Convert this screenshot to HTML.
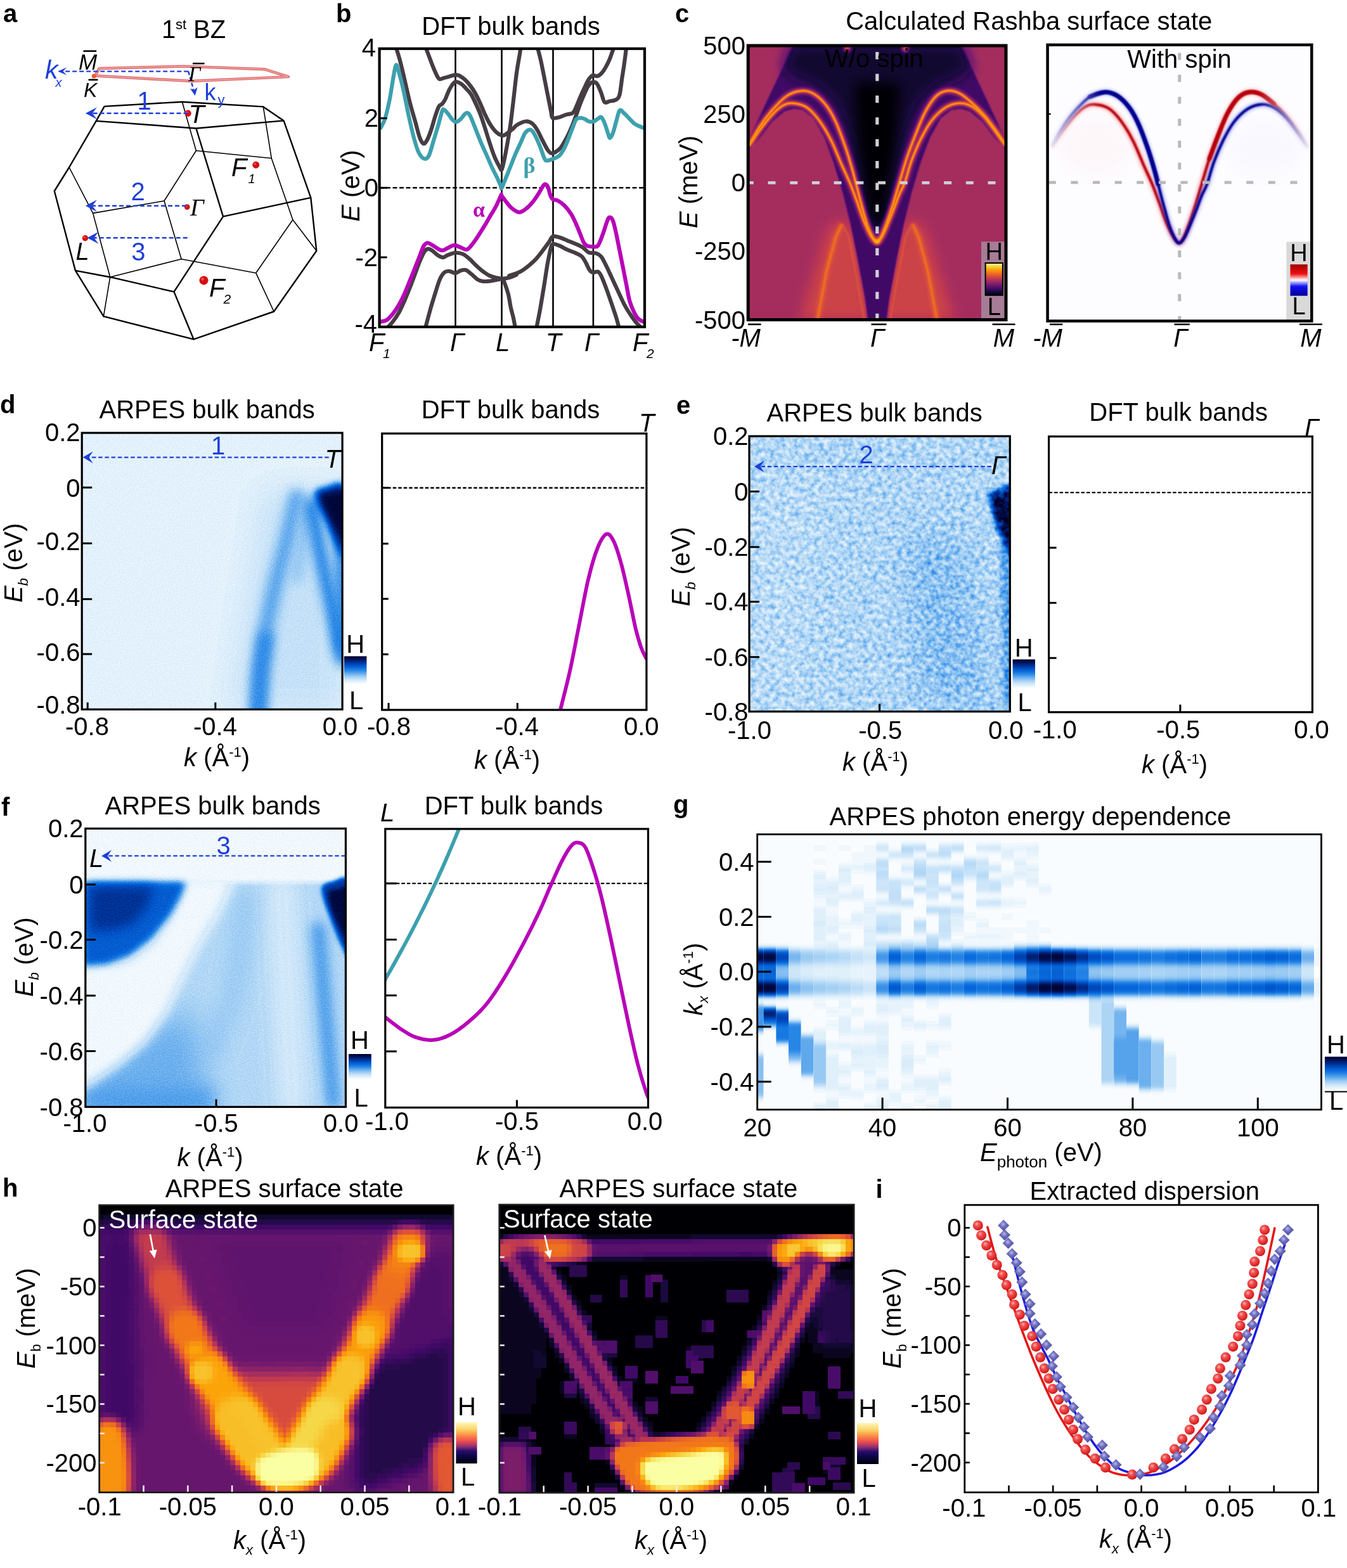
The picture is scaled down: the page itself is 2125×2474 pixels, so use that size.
<!DOCTYPE html>
<html><head><meta charset="utf-8"><title>Figure</title><style>html,body{margin:0;padding:0;background:#fff;}svg{display:block;}</style></head><body><svg xmlns="http://www.w3.org/2000/svg" width="2125" height="2474" viewBox="0 0 2125 2474" font-family="'Liberation Sans', Arial, Helvetica, sans-serif" font-size="40" fill="#000"><defs><filter id="cmInf" x="0" y="0" width="1" height="1" color-interpolation-filters="sRGB"><feComponentTransfer in="SourceGraphic"><feFuncR type="table" tableValues="0.000 0.086 0.259 0.416 0.576 0.737 0.867 0.953 0.988 0.965 0.988"/><feFuncG type="table" tableValues="0.000 0.043 0.039 0.090 0.149 0.216 0.318 0.471 0.647 0.843 1.000"/><feFuncB type="table" tableValues="0.016 0.224 0.408 0.431 0.404 0.329 0.227 0.098 0.039 0.275 0.643"/><feFuncA type="identity"/></feComponentTransfer></filter><filter id="bl1" filterUnits="userSpaceOnUse" x="0" y="0" width="2125" height="2474"><feGaussianBlur stdDeviation="1.2"/></filter><filter id="bl2" filterUnits="userSpaceOnUse" x="0" y="0" width="2125" height="2474"><feGaussianBlur stdDeviation="2.5"/></filter><filter id="bl5" filterUnits="userSpaceOnUse" x="0" y="0" width="2125" height="2474"><feGaussianBlur stdDeviation="5"/></filter><filter id="bl10" filterUnits="userSpaceOnUse" x="0" y="0" width="2125" height="2474"><feGaussianBlur stdDeviation="10"/></filter><filter id="bl18" filterUnits="userSpaceOnUse" x="0" y="0" width="2125" height="2474"><feGaussianBlur stdDeviation="18"/></filter><filter id="cmBlueD" x="0" y="0" width="1" height="1" color-interpolation-filters="sRGB"><feTurbulence type="fractalNoise" baseFrequency="0.5" numOctaves="2" seed="3" result="tn"/><feColorMatrix in="tn" type="matrix" values="1 0 0 0 0  1 0 0 0 0  1 0 0 0 0  0 0 0 0 1" result="tg"/><feComposite in="SourceGraphic" in2="tg" operator="arithmetic" k1="0" k2="1" k3="0.16" k4="-0.08" result="nz"/><feComponentTransfer in="nz"><feFuncR type="table" tableValues="1.000 0.894 0.769 0.588 0.373 0.157 0.031 0.000 0.000 0.000 0.000"/><feFuncG type="table" tableValues="1.000 0.949 0.882 0.784 0.659 0.529 0.412 0.294 0.176 0.071 0.000"/><feFuncB type="table" tableValues="1.000 0.988 0.973 0.953 0.929 0.902 0.863 0.745 0.549 0.333 0.157"/><feFuncA type="identity"/></feComponentTransfer></filter><filter id="cmBlueE" x="0" y="0" width="1" height="1" color-interpolation-filters="sRGB"><feTurbulence type="fractalNoise" baseFrequency="0.13" numOctaves="2" seed="7" result="tn"/><feColorMatrix in="tn" type="matrix" values="1 0 0 0 0  1 0 0 0 0  1 0 0 0 0  0 0 0 0 1" result="tg"/><feComposite in="SourceGraphic" in2="tg" operator="arithmetic" k1="0" k2="1" k3="0.48" k4="-0.24" result="nz"/><feComponentTransfer in="nz"><feFuncR type="table" tableValues="1.000 0.894 0.769 0.588 0.373 0.157 0.031 0.000 0.000 0.000 0.000"/><feFuncG type="table" tableValues="1.000 0.949 0.882 0.784 0.659 0.529 0.412 0.294 0.176 0.071 0.000"/><feFuncB type="table" tableValues="1.000 0.988 0.973 0.953 0.929 0.902 0.863 0.745 0.549 0.333 0.157"/><feFuncA type="identity"/></feComponentTransfer></filter><filter id="cmBlueF" x="0" y="0" width="1" height="1" color-interpolation-filters="sRGB"><feTurbulence type="fractalNoise" baseFrequency="0.45" numOctaves="2" seed="11" result="tn"/><feColorMatrix in="tn" type="matrix" values="1 0 0 0 0  1 0 0 0 0  1 0 0 0 0  0 0 0 0 1" result="tg"/><feComposite in="SourceGraphic" in2="tg" operator="arithmetic" k1="0" k2="1" k3="0.13" k4="-0.065" result="nz"/><feComponentTransfer in="nz"><feFuncR type="table" tableValues="1.000 0.894 0.769 0.588 0.373 0.157 0.031 0.000 0.000 0.000 0.000"/><feFuncG type="table" tableValues="1.000 0.949 0.882 0.784 0.659 0.529 0.412 0.294 0.176 0.071 0.000"/><feFuncB type="table" tableValues="1.000 0.988 0.973 0.953 0.929 0.902 0.863 0.745 0.549 0.333 0.157"/><feFuncA type="identity"/></feComponentTransfer></filter><filter id="cmBlueG" x="0" y="0" width="1" height="1" color-interpolation-filters="sRGB"><feComponentTransfer in="SourceGraphic"><feFuncR type="table" tableValues="1.000 0.894 0.769 0.588 0.373 0.157 0.031 0.000 0.000 0.000 0.000"/><feFuncG type="table" tableValues="1.000 0.949 0.882 0.784 0.659 0.529 0.412 0.294 0.176 0.071 0.000"/><feFuncB type="table" tableValues="1.000 0.988 0.973 0.953 0.929 0.902 0.863 0.745 0.549 0.333 0.157"/><feFuncA type="identity"/></feComponentTransfer></filter><filter id="b3" filterUnits="userSpaceOnUse" x="0" y="0" width="2125" height="2474"><feGaussianBlur stdDeviation="3"/></filter><filter id="b6" filterUnits="userSpaceOnUse" x="0" y="0" width="2125" height="2474"><feGaussianBlur stdDeviation="6"/></filter><filter id="b9" filterUnits="userSpaceOnUse" x="0" y="0" width="2125" height="2474"><feGaussianBlur stdDeviation="9"/></filter><filter id="b14" filterUnits="userSpaceOnUse" x="0" y="0" width="2125" height="2474"><feGaussianBlur stdDeviation="14"/></filter><filter id="b25" filterUnits="userSpaceOnUse" x="0" y="0" width="2125" height="2474"><feGaussianBlur stdDeviation="25"/></filter><filter id="vbl" filterUnits="userSpaceOnUse" x="0" y="0" width="2125" height="2474"><feGaussianBlur stdDeviation="0.6 4"/></filter><filter id="hb2" filterUnits="userSpaceOnUse" x="0" y="0" width="2125" height="2474"><feGaussianBlur stdDeviation="2"/></filter><filter id="hb4" filterUnits="userSpaceOnUse" x="0" y="0" width="2125" height="2474"><feGaussianBlur stdDeviation="4"/></filter><filter id="hb7" filterUnits="userSpaceOnUse" x="0" y="0" width="2125" height="2474"><feGaussianBlur stdDeviation="7"/></filter><filter id="hb12" filterUnits="userSpaceOnUse" x="0" y="0" width="2125" height="2474"><feGaussianBlur stdDeviation="12"/></filter><radialGradient id="gRed" cx="0.38" cy="0.35" r="0.65"><stop offset="0" stop-color="#ffb0b0"/><stop offset="0.35" stop-color="#f05050"/><stop offset="0.8" stop-color="#e02828"/><stop offset="1" stop-color="#c81818"/></radialGradient><radialGradient id="gBlu" cx="0.45" cy="0.4" r="0.6"><stop offset="0" stop-color="#b8b8ec"/><stop offset="0.4" stop-color="#7070c0"/><stop offset="1" stop-color="#4a4a9a"/></radialGradient></defs><rect width="2125" height="2474" fill="#fff"/><text x="5" y="35" font-weight="bold">a</text><text x="255" y="60">1</text><text x="277" y="46" font-size="22">st</text><text x="305" y="60">BZ</text><path d="M164.7 167.9L287.4 160.7M287.4 160.7L415.3 168.4M415.3 168.4L447.6 190.4M447.6 190.4L309.4 202.5M309.4 202.5L151.7 190.9M151.7 190.9L164.7 167.9M309.4 202.5L352 341.6M151.7 190.9L109.1 264M109.1 264L85.8 301.5M85.8 301.5L118.9 426.9M352 341.6L490.3 311.9M352 341.6L274.5 460.4M447.6 190.4L490.3 311.9M490.3 311.9L499.3 395.8M499.3 395.8L432.1 491.5M118.9 426.9L163.4 499.2M173.7 437.2L274.5 460.4M274.5 460.4L305.5 535.4M163.4 499.2L305.5 535.4M305.5 535.4L432.1 491.5M118.9 426.9L173.7 437.2" stroke="#000" stroke-width="2.4" fill="none" stroke-linecap="round"/><path d="M287.4 160.7L309.4 237.7M309.4 237.7L259 317M309.4 237.7L428.3 249.8M415.3 168.4L428.3 249.8M428.3 249.8L461.9 346.7M109.1 264L146.6 336.4M146.6 336.4L173.7 437.2M146.6 336.4L259 317M259 317L286.1 408.8M286.1 408.8L173.7 437.2M286.1 408.8L403.7 430.7M461.9 346.7L499.3 395.8M461.9 346.7L403.7 430.7M403.7 430.7L432.1 491.5M173.7 437.2L163.4 499.2" stroke="#000" stroke-width="1.6" fill="none" stroke-linecap="round"/><path d="M156.7 108 L290.3 104.6 L417 109.2 L455 121.1 L301.8 128 L149.8 119.5Z" fill="none" stroke="#e07070" stroke-width="4.4" stroke-linejoin="round"/><path d="M156.7 108 L290.3 104.6 L417 109.2 L455 121.1 L301.8 128 L149.8 119.5Z" fill="none" stroke="#f2aaaa" stroke-width="1.3" stroke-linejoin="round"/><circle cx="148.2" cy="120.2" r="3.4" fill="#ee5a2e"/><circle cx="296.5" cy="178.8" r="5.2" fill="#d40f0f"/><circle cx="294.9" cy="177.2" r="1.8" fill="#ff6a6a" opacity="0.7"/><circle cx="295.2" cy="326.6" r="4.4" fill="#d40f0f"/><circle cx="293.9" cy="325.3" r="1.5" fill="#ff6a6a" opacity="0.7"/><circle cx="134.4" cy="375.7" r="4.7" fill="#d40f0f"/><circle cx="133" cy="374.3" r="1.6" fill="#ff6a6a" opacity="0.7"/><circle cx="403.7" cy="260.2" r="5.5" fill="#d40f0f"/><circle cx="402.1" cy="258.6" r="1.9" fill="#ff6a6a" opacity="0.7"/><circle cx="321.5" cy="442.4" r="7" fill="#d40f0f"/><circle cx="319.4" cy="440.3" r="2.4" fill="#ff6a6a" opacity="0.7"/><line x1="296.5" y1="178.8" x2="145.7" y2="178.8" stroke="#1f3fd8" stroke-width="2.6" stroke-dasharray="7 4"/><path d="M134.9 178.8 L152.9 169.3 L145.7 178.8 L152.9 188.3 Z" fill="#1f3fd8"/><line x1="294" y1="324.8" x2="145.7" y2="324.8" stroke="#1f3fd8" stroke-width="2.6" stroke-dasharray="7 4"/><path d="M134.9 324.8 L152.9 315.3 L145.7 324.8 L152.9 334.3 Z" fill="#1f3fd8"/><line x1="295.7" y1="375.2" x2="148.3" y2="375.2" stroke="#1f3fd8" stroke-width="2.6" stroke-dasharray="7 4"/><path d="M137.5 375.2 L155.5 365.7 L148.3 375.2 L155.5 384.7 Z" fill="#1f3fd8"/><line x1="297.2" y1="112.6" x2="99.5" y2="112.6" stroke="#1f3fd8" stroke-width="2.4" stroke-dasharray="7 4"/><path d="M91.1 112.6 L105.1 106.6 L99.5 112.6 L105.1 118.6 Z" fill="#1f3fd8"/><line x1="297.2" y1="112.6" x2="305.5" y2="142.5" stroke="#1f3fd8" stroke-width="2.4" stroke-dasharray="6 3.5"/><path d="M307.8 151 L299.8 139.5 L306 142 L311.5 137.8 Z" fill="#1f3fd8"/><text x="71" y="124" font-size="41" font-style="italic" fill="#1f3fd8">k</text><text x="87.5" y="137" font-size="20" font-style="italic" fill="#1f3fd8">x</text><text x="322.5" y="157.5" font-size="36" fill="#1f3fd8">k</text><text x="343.5" y="165" font-size="22" fill="#1f3fd8">y</text><text x="216.5" y="172.5" fill="#1f3fd8">1</text><text x="206.5" y="315.7" fill="#1f3fd8">2</text><text x="207.3" y="411.3" fill="#1f3fd8">3</text><text x="124" y="110.3" font-size="35" font-style="italic">M</text><line x1="131.4" y1="80.6" x2="152.1" y2="80.6" stroke="#000" stroke-width="2.6" /><text x="132" y="152.9" font-size="32" font-style="italic">K</text><line x1="139.5" y1="125.9" x2="154.4" y2="125.9" stroke="#000" stroke-width="2.6" /><text x="297" y="127.6" font-size="34" font-style="italic" font-family="'Liberation Serif', 'Times New Roman', serif">Γ</text><line x1="304" y1="100.2" x2="322.6" y2="100.2" stroke="#000" stroke-width="2.6" /><text x="297.5" y="194.4" font-size="41" font-style="italic">T</text><text x="300" y="340.3" font-size="38" font-style="italic" font-family="'Liberation Serif', 'Times New Roman', serif">Γ</text><text x="365" y="278.3" font-style="italic">F</text><text x="391.5" y="288.6" font-size="20" font-style="italic">1</text><text x="119.5" y="410" font-size="38" font-style="italic">L</text><text x="330" y="468.2" font-style="italic">F</text><text x="352.5" y="478.5" font-size="21" font-style="italic">2</text><text x="530" y="35" font-weight="bold">b</text><text x="806" y="55.4" text-anchor="middle">DFT bulk bands</text><clipPath id="cpb"><rect x="598.6" y="76.8" width="418.4" height="439"/></clipPath><g clip-path="url(#cpb)"><line x1="718.5" y1="76.8" x2="718.5" y2="515.8" stroke="#000" stroke-width="2.6" /><line x1="791.5" y1="76.8" x2="791.5" y2="515.8" stroke="#000" stroke-width="2.6" /><line x1="872.5" y1="76.8" x2="872.5" y2="515.8" stroke="#000" stroke-width="2.6" /><line x1="935.9" y1="76.8" x2="935.9" y2="515.8" stroke="#000" stroke-width="2.6" /><line x1="598.6" y1="296.3" x2="1017" y2="296.3" stroke="#000" stroke-width="2.6" stroke-dasharray="6.8 3.7"/><path d="M624.7 74.9 C625.7 78.2 628.6 86.3 630.8 94.7 C633.1 103.2 635.6 114.3 638.3 125.6 C640.9 136.9 644 151.4 646.9 162.7 C649.8 174 653.1 184.7 655.6 193.6 C658 202.5 659.9 210.5 661.7 215.8 C663.6 221.2 665 224.3 666.7 225.7 C668.3 227.2 669.6 227.4 671.6 224.5 C673.7 221.6 676.6 215.2 679 208.4 C681.5 201.6 684.2 190.5 686.5 183.7 C688.7 176.9 690.8 170.9 692.6 167.6 C694.5 164.3 695.9 165.8 697.6 163.9 C699.2 162.1 700.7 160.2 702.5 156.5 C704.4 152.8 706.4 146 708.7 141.7 C711 137.4 714.1 132.6 716.1 130.6 C718.2 128.5 719 128.9 721.1 129.3 C723.1 129.7 725.8 131 728.5 133 C731.2 135.1 734.7 139 737.1 141.7 C739.6 144.4 741 145.4 743.3 149.1 C745.6 152.8 748.3 158.6 750.7 163.9 C753.2 169.3 755.7 174.6 758.1 181.2 C760.6 187.8 763.1 195.9 765.6 203.5 C768 211.1 770.5 219.6 773 227 C775.4 234.4 777.9 242 780.4 248 C782.9 254 786 259.5 787.8 262.8 C789.7 266.1 790.2 269.6 791.5 267.8 C792.8 266 794 259 795.5 252 C797 245 798.8 235.5 800.5 226 C802.2 216.5 803.9 206.3 805.5 195 C807.1 183.7 808.4 171.3 810 158 C811.6 144.7 813.3 127.2 815 115 C816.7 102.8 818.8 92.5 820 85 C821.2 77.5 821.7 72.5 822 70" fill="none" stroke="#463d44" stroke-width="6.2" stroke-linecap="round" stroke-linejoin="round" /><path d="M671.6 74.9 C672.9 78.2 676.6 88.3 679 94.7 C681.5 101.1 684.2 108.3 686.5 113.3 C688.7 118.2 690.4 122.7 692.6 124.4 C694.9 126 697.4 123.8 700.1 123.1 C702.7 122.5 705.6 121.5 708.7 120.7 C711.8 119.9 715.9 118.4 718.6 118.2 C721.3 118 722.3 118.2 724.8 119.4 C727.2 120.7 730.5 122.9 733.4 125.6 C736.3 128.3 739.4 132 742.1 135.5 C744.8 139 747 142.3 749.5 146.6 C752 151 754.4 156.1 756.9 161.5 C759.4 166.8 761.9 173.4 764.3 178.8 C766.8 184.1 769.1 189.1 771.7 193.6 C774.4 198.1 777.7 202.9 780.4 206 C783.1 209 785.3 210.9 787.8 212.1 C790.3 213.4 792.8 214 795.2 213.4 C797.7 212.8 800.4 210.1 802.6 208.4 C804.9 206.8 806.5 205.4 808.8 203.5 C811.1 201.5 812.9 198.8 816.4 196.7 C819.9 194.7 825.6 191.7 829.6 191.5 C833.6 191.2 837.1 193 840.2 195.4 C843.3 197.8 845.5 201.6 848.1 206 C850.7 210.4 853.4 216.8 856 221.8 C858.7 226.9 861.7 233.1 863.9 236.4 C866.1 239.7 867.2 241 869.2 241.6 C871.2 242.3 873.2 241.9 875.8 240.3 C878.5 238.8 882 236.4 885.1 232.4 C888.1 228.4 891.4 222.1 894.3 216.6 C897.2 211.1 899.8 205.1 902.2 199.4 C904.6 193.7 906.6 188.2 908.8 182.2 C911 176.3 913.2 169.5 915.4 163.7 C917.6 158 919.8 152.7 922 147.9 C924.2 143.1 926.4 137.8 928.6 134.7 C930.8 131.6 933 129.9 935.2 129.4 C937.4 129 939.6 129.2 941.8 132.1 C944 134.9 946.5 141.7 948.4 146.6 C950.4 151.4 951.5 158.9 953.7 161.1 C955.9 163.3 958.6 160.4 961.6 159.8 C964.7 159.1 969.6 158.9 972.2 157.1 C974.8 155.4 975.9 154.9 977.5 149.2 C979 143.5 980.1 131.6 981.4 122.8 C982.8 114 984.3 104.3 985.4 96.4 C986.5 88.5 987.6 78.8 988 75.3" fill="none" stroke="#463d44" stroke-width="6.2" stroke-linecap="round" stroke-linejoin="round" /><path d="M848.1 75.3 C849 78.8 851.6 88.5 853.4 96.4 C855.1 104.3 856.9 114 858.7 122.8 C860.4 131.6 862.2 140.4 863.9 149.2 C865.7 158 867.9 169.5 869.2 175.6 C870.5 181.8 869.7 184.6 871.9 186.2 C874.1 187.7 878.9 185.7 882.4 184.9 C885.9 184 889.5 182 893 180.9 C896.5 179.8 900.9 180.2 903.5 178.3 C906.2 176.3 906.8 173.2 908.8 169 C910.8 164.8 913.2 158.2 915.4 153.2 C917.6 148.1 919.8 143.3 922 138.7 C924.2 134 926.4 128.8 928.6 125.5 C930.8 122.2 933 119.7 935.2 118.9 C937.4 118 939.6 120.6 941.8 120.2 C944 119.7 946.2 118.4 948.4 116.2 C950.6 114 952.8 110.7 955 107 C957.2 103.2 959.4 99 961.6 93.8 C963.8 88.5 967.1 78.4 968.2 75.3" fill="none" stroke="#463d44" stroke-width="6.2" stroke-linecap="round" stroke-linejoin="round" /><path d="M609.8 518.7 C611.5 516.8 616.4 511.9 619.7 507.5 C623 503.2 626.5 498.3 629.6 492.7 C632.7 487.1 635.4 480.7 638.3 474.2 C641.1 467.6 644.2 459.9 646.9 453.1 C649.6 446.3 651.9 440 654.3 433.4 C656.8 426.8 659.3 419.6 661.7 413.6 C664.2 407.6 666.9 401 669.2 397.5 C671.4 394 673.3 393 675.3 392.6 C677.4 392.2 679 393.4 681.5 395.1 C684 396.7 687.3 400.6 690.2 402.5 C693.1 404.3 696.1 406.2 698.8 406.2 C701.5 406.2 702.9 403.7 706.2 402.5 C709.5 401.2 714.5 399 718.6 398.8 C722.7 398.6 727.2 399.6 731 401.2 C734.7 402.9 737.5 405.8 740.8 408.7 C744.1 411.5 747.4 415.4 750.7 418.5 C754 421.6 757.1 424.5 760.6 427.2 C764.1 429.9 768 432.8 771.7 434.6 C775.4 436.5 779.4 437.5 782.9 438.3 C786.4 439.1 789.5 439.6 792.8 439.6 C796 439.6 798.9 439.3 802.6 438.3 C806.3 437.3 814.9 433.9 815 433.4 C815.1 432.9 801.9 436.2 803.2 435.2 C804.5 434.2 816.4 431.3 823 427.3 C829.6 423.4 837.3 416.7 842.8 411.5 C848.3 406.2 852.1 400.7 856 395.6 C860 390.6 863.9 384.8 866.6 381.1 C869.2 377.4 869.2 374.3 871.9 373.2 C874.5 372.1 878.5 373.4 882.4 374.5 C886.4 375.6 891.2 378 895.6 379.8 C900 381.5 904.9 383.3 908.8 385.1 C912.8 386.8 916.1 388.1 919.4 390.3 C922.7 392.5 925.1 396.7 928.6 398.3 C932.2 399.8 937.2 398.5 940.5 399.6 C943.8 400.7 945.8 401.6 948.4 404.9 C951.1 408.2 953.5 413.7 956.4 419.4 C959.2 425.1 962.5 432.6 965.6 439.2 C968.7 445.8 971.5 452 974.8 459 C978.1 466 981.9 474.8 985.4 481.4 C988.9 488 992.9 494 996 498.6 C999 503.2 1001.2 506.1 1003.9 509.2 C1006.5 512.3 1010.5 515.8 1011.8 517.1" fill="none" stroke="#463d44" stroke-width="6.2" stroke-linecap="round" stroke-linejoin="round" /><path d="M670.4 519.9 C671.8 514.5 676.4 497.2 679 487.8 C681.7 478.3 684 470.9 686.5 463 C688.9 455.2 691.4 446.3 693.9 440.8 C696.3 435.2 698.8 431.8 701.3 429.7 C703.8 427.5 705.8 427.6 708.7 427.8 C711.6 428 715.7 431 718.6 430.9 C721.5 430.8 723.3 428 726 427.2 C728.7 426.4 731.8 425.1 734.7 426 C737.5 426.8 740.2 429.7 743.3 432.1 C746.4 434.6 750.1 438.8 753.2 440.8 C756.3 442.7 758.4 443.5 761.9 443.9 C765.4 444.3 769.9 443.8 774.2 443.3 C778.5 442.7 784.7 441.3 787.8 440.8 C790.9 440.3 791.5 439.6 792.8 440.2 C794 440.8 793.8 440.5 795.3 444.5 C796.8 448.5 800.1 457.5 801.9 464.3 C803.6 471.1 804.5 479.2 805.8 485.4 C807.2 491.6 808.6 495.7 809.8 501.2 C811 506.8 812.6 515.6 813.1 518.4" fill="none" stroke="#463d44" stroke-width="6.2" stroke-linecap="round" stroke-linejoin="round" /><path d="M846.1 518.4 C847.1 513.4 850 499.7 852.1 488 C854.1 476.4 856.7 460.5 858.7 448.4 C860.6 436.3 862.2 425.1 863.9 415.4 C865.7 405.7 867.7 395.4 869.2 390.3 C870.8 385.3 871 385.5 873.2 385.1 C875.4 384.6 878.7 386.2 882.4 387.7 C886.2 389.2 891.2 392.3 895.6 394.3 C900 396.3 905.1 397.8 908.8 399.6 C912.6 401.3 915.4 402.2 918.1 404.9 C920.7 407.5 922.7 411.9 924.7 415.4 C926.7 418.9 928.2 423.6 930 426 C931.7 428.4 933 429.5 935.2 430 C937.4 430.4 941 427.8 943.2 428.6 C945.4 429.5 946.2 430.8 948.4 435.2 C950.6 439.6 953.7 448 956.4 455 C959 462.1 961.6 469.8 964.3 477.5 C966.9 485.2 970.1 494.4 972.2 501.2 C974.3 508.1 976.1 515.6 976.8 518.4" fill="none" stroke="#463d44" stroke-width="6.2" stroke-linecap="round" stroke-linejoin="round" /><path d="M600.6 201.6 C601.7 199.3 605 194.9 607.4 187.4 C609.7 179.9 612.5 167.8 614.8 156.5 C617 145.2 619.3 128.4 621 119.4 C622.6 110.5 623.4 104.2 624.7 102.8 C625.9 101.3 626.5 104.7 628.4 110.8 C630.2 116.9 633.1 127.5 635.8 139.2 C638.5 151 641.6 168.1 644.4 181.2 C647.3 194.4 650.4 208.4 653.1 218.3 C655.8 228.2 657.8 235.2 660.5 240.6 C663.2 245.9 666.5 249.6 669.2 250.4 C671.8 251.3 674.1 250.2 676.6 245.5 C679 240.8 681.5 230.1 684 222 C686.5 214 689.1 205.1 691.4 197.3 C693.7 189.5 696 179.1 697.6 175.1 C699.1 171 699.2 172.6 700.7 173.2 C702.1 173.8 704.1 176.2 706.2 178.8 C708.4 181.3 711.4 186.4 713.7 188.7 C715.9 190.9 717.6 192.6 719.8 192.4 C722.1 192.2 724.8 189.7 727.2 187.4 C729.7 185.1 732.4 179.8 734.7 178.8 C736.9 177.7 738.6 177.9 740.8 181.2 C743.1 184.5 745.4 191.5 748.3 198.5 C751.1 205.5 754.9 215.4 758.1 223.3 C761.4 231.1 764.9 238.5 768 245.5 C771.1 252.5 773.8 259.1 776.7 265.3 C779.6 271.5 783.1 277.8 785.3 282.6 C787.6 287.4 789.2 291.7 790.3 294 C791.3 296.2 790.3 298.4 791.6 296.3 C792.9 294.2 795.5 287.1 797.9 281.2 C800.3 275.4 803.2 268 805.8 261.4 C808.5 254.8 811.1 247.8 813.8 241.6 C816.4 235.5 819.3 229.8 821.7 224.5 C824.1 219.2 826.1 213.3 828.3 210 C830.5 206.7 832.9 205.1 834.9 204.7 C836.9 204.2 838.2 204.9 840.2 207.3 C842.2 209.7 844.6 214.6 846.8 219.2 C849 223.8 851.4 230 853.4 235 C855.4 240.1 857.1 246.5 858.7 249.6 C860.2 252.6 860.4 253.3 862.6 253.5 C864.8 253.7 868.6 252.2 871.9 250.9 C875.2 249.6 879.3 248.5 882.4 245.6 C885.5 242.7 888.1 237.7 890.3 233.7 C892.5 229.8 893.6 226.7 895.6 221.8 C897.6 217 900 210.2 902.2 204.7 C904.4 199.2 906.6 191.9 908.8 188.8 C911 185.7 913.2 186.4 915.4 186.2 C917.6 186 919.8 186.6 922 187.5 C924.2 188.4 926.2 190.8 928.6 191.5 C931.1 192.1 934.1 192.1 936.6 191.5 C939 190.8 941.2 188.6 943.2 187.5 C945.1 186.4 946.7 183.8 948.4 184.9 C950.2 186 952 189.9 953.7 194.1 C955.5 198.3 957.6 206 959 210 C960.4 213.9 961 217.9 962.3 217.9 C963.6 217.9 965.3 214.4 966.9 210 C968.6 205.6 970.4 197.4 972.2 191.5 C974 185.5 975.5 176.5 977.5 174.3 C979.5 172.1 981.7 176.3 984.1 178.3 C986.5 180.2 989.1 183.3 992 186.2 C994.9 189 998.4 193.2 1001.2 195.4 C1004.1 197.6 1006.8 198.3 1009.2 199.4 C1011.6 200.5 1014.7 201.6 1015.8 202" fill="none" stroke="#3da0ad" stroke-width="6.2" stroke-linecap="round" stroke-linejoin="round" /><path d="M599.3 507.8 C601.1 507.3 606.4 507.2 609.8 505.1 C613.2 503 616.4 499.3 619.7 495.2 C623 491 626.5 485.7 629.6 480.3 C632.7 475 635.4 469.4 638.3 463 C641.1 456.6 644.2 448.6 646.9 442 C649.6 435.4 651.9 429.7 654.3 423.5 C656.8 417.3 659.5 410.7 661.7 404.9 C664 399.2 665.9 392.5 667.9 388.9 C670 385.3 671.8 383.7 674.1 383.3 C676.4 382.9 679 385.1 681.5 386.4 C684 387.7 686.3 389.9 688.9 391.3 C691.6 392.8 694.7 395.1 697.6 395.1 C700.5 395.1 703.6 392.6 706.2 391.3 C708.9 390.1 711.6 388.4 713.7 387.6 C715.7 386.9 716.5 386.6 718.6 387 C720.7 387.4 723.1 389 726 390.1 C728.9 391.2 733 394.2 735.9 393.8 C738.8 393.4 740.4 390.9 743.3 387.6 C746.2 384.3 749.5 379.6 753.2 374 C756.9 368.5 762.1 360 765.6 354.3 C769.1 348.5 771.3 344.4 774.2 339.4 C777.1 334.5 780.2 329.8 782.9 324.6 C785.5 319.5 788.9 311.2 790.3 308.5 C791.7 305.9 790 307 791.3 308.5 C792.6 310 795.3 314.4 797.9 317.7 C800.6 321 803.6 325.4 807.2 328.3 C810.7 331.1 815.3 334.7 819 334.9 C822.8 335.1 826.1 332.2 829.6 329.6 C833.1 327 836.9 323 840.2 319 C843.5 315.1 846.8 309.9 849.4 305.8 C852.1 301.8 854.3 297.2 856 294.6 C857.8 292.1 858.5 290.6 860 290.7 C861.4 290.8 863.3 292.5 864.6 295.3 C865.9 298 866.7 304 867.9 307.2 C869.1 310.4 869.9 312.9 871.9 314.4 C873.8 316 876.7 314.8 879.8 316.4 C882.9 318.1 886.8 320.8 890.3 324.3 C893.9 327.8 897.8 332.7 900.9 337.5 C904 342.4 906.4 348.1 908.8 353.4 C911.2 358.7 913.4 364.4 915.4 369.2 C917.4 374.1 918.9 379.3 920.7 382.4 C922.5 385.5 923.6 386.6 926 387.7 C928.4 388.8 932.4 389 935.2 389 C938.1 389 940.5 391 943.2 387.7 C945.8 384.4 948.7 375.6 951.1 369.2 C953.5 362.8 955.9 353.8 957.7 349.4 C959.4 345 960.1 343 961.6 342.8 C963.2 342.6 965.2 343.7 966.9 348.1 C968.7 352.5 970.4 361.3 972.2 369.2 C974 377.1 975.7 386.8 977.5 395.6 C979.2 404.4 981 413.2 982.8 422 C984.5 430.8 986.3 439.6 988 448.4 C989.8 457.2 991.1 467.1 993.3 474.8 C995.5 482.5 998.8 489.8 1001.2 494.6 C1003.7 499.5 1005.4 501.7 1007.9 503.9 C1010.3 506.1 1014.5 507.2 1015.8 507.9" fill="none" stroke="#b803b8" stroke-width="6.2" stroke-linecap="round" stroke-linejoin="round" /></g><rect x="598.6" y="76.8" width="418.4" height="439" fill="none" stroke="#000" stroke-width="4.2" /><line x1="598.6" y1="186.6" x2="610.6" y2="186.6" stroke="#000" stroke-width="3" /><line x1="598.6" y1="296.3" x2="610.6" y2="296.3" stroke="#000" stroke-width="3" /><line x1="598.6" y1="406" x2="610.6" y2="406" stroke="#000" stroke-width="3" /><text x="593" y="88.5" text-anchor="end">4</text><text x="597" y="200.3" text-anchor="end">2</text><text x="597" y="310" text-anchor="end">0</text><text x="596" y="420" text-anchor="end">-2</text><text x="595" y="524.5" text-anchor="end">-4</text><text transform="translate(567 293) rotate(-90)" text-anchor="middle"><tspan font-style="italic">E</tspan> (eV)</text><text x="582" y="553.8" font-style="italic">F</text><text x="604" y="564.5" font-size="21" font-style="italic">1</text><text x="710" y="553.8" font-style="italic">Γ</text><text x="782" y="553.8" font-style="italic">L</text><text x="861" y="553.8" font-style="italic">T</text><text x="922" y="553.8" font-style="italic">Γ</text><text x="998" y="553.8" font-style="italic">F</text><text x="1020" y="564.5" font-size="21" font-style="italic">2</text><text x="746" y="342" font-size="34" font-weight="bold" fill="#b803b8" font-family="'Liberation Serif', 'Times New Roman', serif">α</text><text x="825.5" y="272.5" font-size="36" font-weight="bold" fill="#3da0ad" font-family="'Liberation Serif', 'Times New Roman', serif">β</text><text x="1065" y="35" font-weight="bold">c</text><text x="1623.3" y="47" text-anchor="middle">Calculated Rashba surface state</text><clipPath id="cpcl"><rect x="1180.2" y="72" width="406.8" height="432.5"/></clipPath><g clip-path="url(#cpcl)"><g filter="url(#cmInf)"><rect x="1175.2" y="67" width="416.8" height="442.5" fill="#717171" /><path d="M1261.8 504.5 L1305.3 362 L1327 345.1 L1353.6 374 L1375.3 504.5Z" fill="#8c8c8c" filter="url(#bl10)"/><path d="M1392.2 504.5 L1414 374 L1438.1 345.1 L1459.9 362 L1505.8 504.5Z" fill="#8c8c8c" filter="url(#bl10)"/><path d="M1289.6 504.5 L1304.1 427.2 L1318.6 374 L1328.2 353.5" fill="none" stroke="#9e9e9e" stroke-width="9" filter="url(#bl2)" stroke-linejoin="round"/><path d="M1289.6 504.5 L1304.1 427.2 L1318.6 374 L1328.2 353.5" fill="none" stroke="#adadad" stroke-width="3.5" filter="url(#bl1)"/><path d="M1478 504.5 L1463.5 427.2 L1449 374 L1439.4 353.5" fill="none" stroke="#9e9e9e" stroke-width="9" filter="url(#bl2)" stroke-linejoin="round"/><path d="M1478 504.5 L1463.5 427.2 L1449 374 L1439.4 353.5" fill="none" stroke="#adadad" stroke-width="3.5" filter="url(#bl1)"/><path d="M1328.2 353.5 L1339.1 374 L1351.2 436.9 L1363.3 504.5" fill="none" stroke="#999999" stroke-width="3" filter="url(#bl1)"/><path d="M1439.4 353.5 L1428.5 374 L1416.4 436.9 L1404.3 504.5" fill="none" stroke="#999999" stroke-width="3" filter="url(#bl1)"/><path d="M1252.1 69.7 L1515.5 69.7 L1590.3 229.1 L1590.3 240 L1568.6 217 L1549.3 191.7 L1529.9 175.5 L1515.5 171.6 L1501 173.5 L1484 186.8 L1467.1 217 L1452.6 255.7 L1438.1 304 L1426.1 352.3 L1414 412.7 L1403.1 470.7 L1398.3 506.9 L1369.3 506.9 L1364.5 470.7 L1353.6 412.7 L1341.5 352.3 L1329.4 304 L1314.9 255.7 L1300.5 217 L1283.5 186.8 L1266.6 173.5 L1252.1 171.6 L1237.6 175.5 L1218.3 191.7 L1199 217 L1177.2 240 L1177.2 229.1Z" fill="#303030" filter="url(#bl1)"/><path d="M1249.7 69.7 L1517.9 69.7 L1532.4 108.3 L1508.2 124 L1481.6 134.9 L1455.1 156.6 L1434.5 197.7 L1420 246 L1406.7 301.6 L1394.7 347.5 L1383.8 366.8 L1372.9 347.5 L1360.8 301.6 L1347.6 246 L1333.1 197.7 L1312.5 156.6 L1286 134.9 L1259.4 124 L1235.2 108.3Z" fill="#161616" filter="url(#bl10)"/><path d="M1347.6 130.1 L1420 130.1 L1414 229.1 L1403.1 301.6 L1393.5 349.9 L1383.8 366.8 L1374.1 349.9 L1364.5 301.6 L1353.6 229.1Z" fill="#000000" filter="url(#bl10)"/><ellipse cx="1336.7" cy="75" rx="5" ry="7" fill="#999999" filter="url(#bl2)"/><ellipse cx="1428" cy="75" rx="5" ry="7" fill="#999999" filter="url(#bl2)"/><path d="M1182.6 226.7 C1185.3 222.1 1193 207.8 1199 198.9 C1204.9 190 1211.1 181.6 1218.3 173.5 C1225.6 165.5 1234.4 155.6 1242.5 150.6 C1250.5 145.6 1259.4 143.5 1266.6 143.3 C1273.9 143.1 1279.5 145.2 1286 149.4 C1292.4 153.6 1299.6 161.1 1305.3 168.7 C1310.9 176.4 1314.9 184.4 1319.8 195.3 C1324.6 206.2 1330.2 222.3 1334.3 233.9 C1338.3 245.6 1341.3 256.3 1343.9 265.3 C1346.6 274.4 1347.6 279 1350 288.3 C1352.4 297.5 1355.4 309.8 1358.4 320.9 C1361.4 332 1364.9 345.5 1368.1 354.7 C1371.3 364 1375.1 372 1377.8 376.5 C1380.4 380.9 1381.4 382.1 1383.8 381.3 C1386.2 380.5 1389.2 376.9 1392.2 371.6 C1395.3 366.4 1398.7 357.5 1401.9 349.9 C1405.1 342.2 1408.8 333 1411.6 325.7 C1414.4 318.5 1416.2 312.6 1418.8 306.4 C1421.4 300.2 1424.1 297.1 1427.3 288.3 C1430.5 279.4 1433.9 264.7 1438.1 253.3 C1442.4 241.8 1447.4 229.9 1452.6 219.4 C1457.9 209 1463.1 198.7 1469.6 190.5 C1476 182.2 1484 174.5 1491.3 169.9 C1498.5 165.3 1506.2 163.1 1513 162.7 C1519.9 162.3 1525.9 164.1 1532.4 167.5 C1538.8 170.9 1545.6 177 1551.7 183.2 C1557.7 189.4 1563 197.3 1568.6 204.9 C1574.2 212.6 1582.7 225.1 1585.5 229.1" fill="none" stroke="#808080" stroke-width="9" stroke-linecap="round" stroke-linejoin="round" filter="url(#bl2)"/><path d="M1182.6 229.1 C1185.3 225.1 1193 213 1199 204.9 C1204.9 196.9 1212.3 187.2 1218.3 180.8 C1224.4 174.3 1230 169.3 1235.2 166.3 C1240.5 163.3 1243.7 162.3 1249.7 162.7 C1255.8 163.1 1264.6 164.5 1271.5 168.7 C1278.3 172.9 1284.3 179.6 1290.8 188 C1297.2 196.5 1304.1 207.8 1310.1 219.4 C1316.2 231.1 1322 246.6 1327 258.1 C1332.1 269.6 1336.5 278.6 1340.6 288.3 C1344.6 298 1347.4 305.8 1351.2 316.1 C1355 326.3 1359.2 340.2 1363.3 349.9 C1367.3 359.6 1371.9 368.8 1375.3 374 C1378.8 379.3 1381.4 381.3 1383.8 381.3 C1386.2 381.3 1387.2 379.3 1389.8 374 C1392.5 368.8 1396.3 358.7 1399.5 349.9 C1402.7 341 1405.9 331.2 1409.2 320.9 C1412.4 310.6 1415.2 300.4 1418.8 288.3 C1422.4 276.2 1426.5 261.5 1430.9 248.4 C1435.3 235.3 1440.6 221.9 1445.4 209.8 C1450.2 197.7 1454.7 185.6 1459.9 176 C1465.1 166.3 1471.2 157.2 1476.8 151.8 C1482.4 146.4 1487.7 144.1 1493.7 143.3 C1499.7 142.5 1506.6 143.9 1513 147 C1519.5 150 1525.9 155.8 1532.4 161.5 C1538.8 167.1 1545.6 173.9 1551.7 180.8 C1557.7 187.6 1563 194.9 1568.6 202.5 C1574.2 210.2 1582.7 222.7 1585.5 226.7" fill="none" stroke="#808080" stroke-width="9" stroke-linecap="round" stroke-linejoin="round" filter="url(#bl2)"/><path d="M1182.6 226.7 C1185.3 222.1 1193 207.8 1199 198.9 C1204.9 190 1211.1 181.6 1218.3 173.5 C1225.6 165.5 1234.4 155.6 1242.5 150.6 C1250.5 145.6 1259.4 143.5 1266.6 143.3 C1273.9 143.1 1279.5 145.2 1286 149.4 C1292.4 153.6 1299.6 161.1 1305.3 168.7 C1310.9 176.4 1314.9 184.4 1319.8 195.3 C1324.6 206.2 1330.2 222.3 1334.3 233.9 C1338.3 245.6 1341.3 256.3 1343.9 265.3 C1346.6 274.4 1347.6 279 1350 288.3 C1352.4 297.5 1355.4 309.8 1358.4 320.9 C1361.4 332 1364.9 345.5 1368.1 354.7 C1371.3 364 1375.1 372 1377.8 376.5 C1380.4 380.9 1381.4 382.1 1383.8 381.3 C1386.2 380.5 1389.2 376.9 1392.2 371.6 C1395.3 366.4 1398.7 357.5 1401.9 349.9 C1405.1 342.2 1408.8 333 1411.6 325.7 C1414.4 318.5 1416.2 312.6 1418.8 306.4 C1421.4 300.2 1424.1 297.1 1427.3 288.3 C1430.5 279.4 1433.9 264.7 1438.1 253.3 C1442.4 241.8 1447.4 229.9 1452.6 219.4 C1457.9 209 1463.1 198.7 1469.6 190.5 C1476 182.2 1484 174.5 1491.3 169.9 C1498.5 165.3 1506.2 163.1 1513 162.7 C1519.9 162.3 1525.9 164.1 1532.4 167.5 C1538.8 170.9 1545.6 177 1551.7 183.2 C1557.7 189.4 1563 197.3 1568.6 204.9 C1574.2 212.6 1582.7 225.1 1585.5 229.1" fill="none" stroke="#bababa" stroke-width="4" stroke-linecap="round" stroke-linejoin="round" filter="url(#bl1)"/><path d="M1182.6 229.1 C1185.3 225.1 1193 213 1199 204.9 C1204.9 196.9 1212.3 187.2 1218.3 180.8 C1224.4 174.3 1230 169.3 1235.2 166.3 C1240.5 163.3 1243.7 162.3 1249.7 162.7 C1255.8 163.1 1264.6 164.5 1271.5 168.7 C1278.3 172.9 1284.3 179.6 1290.8 188 C1297.2 196.5 1304.1 207.8 1310.1 219.4 C1316.2 231.1 1322 246.6 1327 258.1 C1332.1 269.6 1336.5 278.6 1340.6 288.3 C1344.6 298 1347.4 305.8 1351.2 316.1 C1355 326.3 1359.2 340.2 1363.3 349.9 C1367.3 359.6 1371.9 368.8 1375.3 374 C1378.8 379.3 1381.4 381.3 1383.8 381.3 C1386.2 381.3 1387.2 379.3 1389.8 374 C1392.5 368.8 1396.3 358.7 1399.5 349.9 C1402.7 341 1405.9 331.2 1409.2 320.9 C1412.4 310.6 1415.2 300.4 1418.8 288.3 C1422.4 276.2 1426.5 261.5 1430.9 248.4 C1435.3 235.3 1440.6 221.9 1445.4 209.8 C1450.2 197.7 1454.7 185.6 1459.9 176 C1465.1 166.3 1471.2 157.2 1476.8 151.8 C1482.4 146.4 1487.7 144.1 1493.7 143.3 C1499.7 142.5 1506.6 143.9 1513 147 C1519.5 150 1525.9 155.8 1532.4 161.5 C1538.8 167.1 1545.6 173.9 1551.7 180.8 C1557.7 187.6 1563 194.9 1568.6 202.5 C1574.2 210.2 1582.7 222.7 1585.5 226.7" fill="none" stroke="#bababa" stroke-width="4" stroke-linecap="round" stroke-linejoin="round" filter="url(#bl1)"/><path d="M1182.6 226.7 C1185.3 222.1 1193 207.8 1199 198.9 C1204.9 190 1211.1 181.6 1218.3 173.5 C1225.6 165.5 1234.4 155.6 1242.5 150.6 C1250.5 145.6 1259.4 143.5 1266.6 143.3 C1273.9 143.1 1279.5 145.2 1286 149.4 C1292.4 153.6 1299.6 161.1 1305.3 168.7 C1310.9 176.4 1314.9 184.4 1319.8 195.3 C1324.6 206.2 1330.2 222.3 1334.3 233.9 C1338.3 245.6 1341.3 256.3 1343.9 265.3 C1346.6 274.4 1347.6 279 1350 288.3 C1352.4 297.5 1355.4 309.8 1358.4 320.9 C1361.4 332 1364.9 345.5 1368.1 354.7 C1371.3 364 1375.1 372 1377.8 376.5 C1380.4 380.9 1381.4 382.1 1383.8 381.3 C1386.2 380.5 1389.2 376.9 1392.2 371.6 C1395.3 366.4 1398.7 357.5 1401.9 349.9 C1405.1 342.2 1408.8 333 1411.6 325.7 C1414.4 318.5 1416.2 312.6 1418.8 306.4 C1421.4 300.2 1424.1 297.1 1427.3 288.3 C1430.5 279.4 1433.9 264.7 1438.1 253.3 C1442.4 241.8 1447.4 229.9 1452.6 219.4 C1457.9 209 1463.1 198.7 1469.6 190.5 C1476 182.2 1484 174.5 1491.3 169.9 C1498.5 165.3 1506.2 163.1 1513 162.7 C1519.9 162.3 1525.9 164.1 1532.4 167.5 C1538.8 170.9 1545.6 177 1551.7 183.2 C1557.7 189.4 1563 197.3 1568.6 204.9 C1574.2 212.6 1582.7 225.1 1585.5 229.1" fill="none" stroke="#c7c7c7" stroke-width="1.4" stroke-linecap="round" stroke-linejoin="round" /><path d="M1182.6 229.1 C1185.3 225.1 1193 213 1199 204.9 C1204.9 196.9 1212.3 187.2 1218.3 180.8 C1224.4 174.3 1230 169.3 1235.2 166.3 C1240.5 163.3 1243.7 162.3 1249.7 162.7 C1255.8 163.1 1264.6 164.5 1271.5 168.7 C1278.3 172.9 1284.3 179.6 1290.8 188 C1297.2 196.5 1304.1 207.8 1310.1 219.4 C1316.2 231.1 1322 246.6 1327 258.1 C1332.1 269.6 1336.5 278.6 1340.6 288.3 C1344.6 298 1347.4 305.8 1351.2 316.1 C1355 326.3 1359.2 340.2 1363.3 349.9 C1367.3 359.6 1371.9 368.8 1375.3 374 C1378.8 379.3 1381.4 381.3 1383.8 381.3 C1386.2 381.3 1387.2 379.3 1389.8 374 C1392.5 368.8 1396.3 358.7 1399.5 349.9 C1402.7 341 1405.9 331.2 1409.2 320.9 C1412.4 310.6 1415.2 300.4 1418.8 288.3 C1422.4 276.2 1426.5 261.5 1430.9 248.4 C1435.3 235.3 1440.6 221.9 1445.4 209.8 C1450.2 197.7 1454.7 185.6 1459.9 176 C1465.1 166.3 1471.2 157.2 1476.8 151.8 C1482.4 146.4 1487.7 144.1 1493.7 143.3 C1499.7 142.5 1506.6 143.9 1513 147 C1519.5 150 1525.9 155.8 1532.4 161.5 C1538.8 167.1 1545.6 173.9 1551.7 180.8 C1557.7 187.6 1563 194.9 1568.6 202.5 C1574.2 210.2 1582.7 222.7 1585.5 226.7" fill="none" stroke="#c7c7c7" stroke-width="1.4" stroke-linecap="round" stroke-linejoin="round" /><circle cx="1383.8" cy="381.3" r="4" fill="#dbdbdb" filter="url(#bl2)"/></g><line x1="1383.8" y1="72" x2="1383.8" y2="504.5" stroke="#cfcfd3" stroke-width="5.2" stroke-dasharray="11.4 23" stroke-dashoffset="24.4"/><line x1="1180.2" y1="288.3" x2="1587" y2="288.3" stroke="#cfcfd3" stroke-width="4.8" stroke-dasharray="12 22.7" stroke-dashoffset="3.4"/><rect x="1548" y="381.3" width="40" height="124" fill="#a77c96" /><linearGradient id="gInf" x1="0" y1="1" x2="0" y2="0"><stop offset="0.00" stop-color="rgb(0,0,4)"/><stop offset="0.10" stop-color="rgb(22,11,57)"/><stop offset="0.20" stop-color="rgb(66,10,104)"/><stop offset="0.30" stop-color="rgb(106,23,110)"/><stop offset="0.40" stop-color="rgb(147,38,103)"/><stop offset="0.50" stop-color="rgb(188,55,84)"/><stop offset="0.60" stop-color="rgb(221,81,58)"/><stop offset="0.70" stop-color="rgb(243,120,25)"/><stop offset="0.80" stop-color="rgb(252,165,10)"/><stop offset="0.90" stop-color="rgb(246,215,70)"/><stop offset="1.00" stop-color="rgb(252,255,164)"/></linearGradient><rect x="1554.6" y="415" width="27.3" height="50.8" fill="url(#gInf)" stroke="#000" stroke-width="2" /><text x="1568.2" y="410.3" font-size="38" text-anchor="middle">H</text><text x="1568.2" y="497" font-size="38" text-anchor="middle">L</text></g><text x="1379" y="106" text-anchor="middle" fill="#000">W/o spin</text><clipPath id="cpcr"><rect x="1652.6" y="70.8" width="416.7" height="435.7"/></clipPath><g clip-path="url(#cpcr)"><rect x="1652.6" y="70.8" width="416.7" height="435.7" fill="#fdfcff" /><ellipse cx="1730" cy="230" rx="55" ry="45" fill="#ffe6e6" opacity="0.2" filter="url(#bl10)"/><ellipse cx="1995" cy="235" rx="55" ry="45" fill="#e8ecff" opacity="0.2" filter="url(#bl10)"/><linearGradient id="gFade" x1="1652.6" y1="0" x2="2069.3" y2="0" gradientUnits="userSpaceOnUse"><stop offset="0" stop-color="#fff" stop-opacity="0"/><stop offset="0.06" stop-color="#fff" stop-opacity="0.35"/><stop offset="0.2" stop-color="#fff" stop-opacity="1"/><stop offset="0.8" stop-color="#fff" stop-opacity="1"/><stop offset="0.94" stop-color="#fff" stop-opacity="0.35"/><stop offset="1" stop-color="#fff" stop-opacity="0"/></linearGradient><mask id="mFade" maskUnits="userSpaceOnUse" x="1652.6" y="70.8" width="416.7" height="435.7"><rect x="1652.6" y="70.8" width="416.7" height="435.7" fill="url(#gFade)"/></mask><g mask="url(#mFade)"><path d="M1659.6 231.1 C1662.3 227.1 1670 215 1676 206.9 C1682 198.9 1689.3 189.2 1695.3 182.8 C1701.4 176.3 1707 171.3 1712.2 168.3 C1717.5 165.3 1720.7 164.3 1726.7 164.7 C1732.8 165.1 1741.6 166.5 1748.5 170.7 C1755.3 174.9 1761.4 181.6 1767.8 190 C1774.2 198.5 1781.1 209.8 1787.1 221.4 C1793.2 233.1 1799 248.6 1804 260.1 C1809.1 271.6 1813.5 280.6 1817.6 290.3 C1821.6 300 1824.4 307.8 1828.2 318.1 C1832 328.3 1836.2 342.2 1840.3 351.9 C1844.3 361.6 1848.9 370.8 1852.3 376 C1855.8 381.3 1858.4 383.3 1860.8 383.3 C1863.2 383.3 1864.2 381.3 1866.8 376 C1869.5 370.8 1873.3 360.7 1876.5 351.9 C1879.7 343 1882.9 333.2 1886.2 322.9 C1889.4 312.6 1892.2 302.4 1895.8 290.3 C1899.5 278.2 1903.5 263.5 1907.9 250.4 C1912.3 237.3 1917.6 223.9 1922.4 211.8 C1927.2 199.7 1931.7 187.6 1936.9 178 C1942.1 168.3 1948.2 159.2 1953.8 153.8 C1959.4 148.4 1964.7 146.1 1970.7 145.3 C1976.8 144.5 1983.6 145.9 1990 149 C1996.5 152 2002.9 157.8 2009.4 163.5 C2015.8 169.1 2022.7 175.9 2028.7 182.8 C2034.7 189.6 2040 196.9 2045.6 204.5 C2051.2 212.2 2059.7 224.7 2062.5 228.7" fill="none" stroke="#ff3030" stroke-width="10" stroke-linecap="round" stroke-linejoin="round" opacity="0.3" filter="url(#bl2)"/><path d="M1659.6 231.1 C1662.3 227.1 1670 215 1676 206.9 C1682 198.9 1689.3 189.2 1695.3 182.8 C1701.4 176.3 1707 171.3 1712.2 168.3 C1717.5 165.3 1720.7 164.3 1726.7 164.7 C1732.8 165.1 1741.6 166.5 1748.5 170.7 C1755.3 174.9 1761.4 181.6 1767.8 190 C1774.2 198.5 1781.1 209.8 1787.1 221.4 C1793.2 233.1 1799 248.6 1804 260.1 C1809.1 271.6 1813.5 280.6 1817.6 290.3 C1821.6 300 1824.4 307.8 1828.2 318.1 C1832 328.3 1836.2 342.2 1840.3 351.9 C1844.3 361.6 1848.9 370.8 1852.3 376 C1855.8 381.3 1858.4 383.3 1860.8 383.3 C1863.2 383.3 1864.2 381.3 1866.8 376 C1869.5 370.8 1873.3 360.7 1876.5 351.9 C1879.7 343 1882.9 333.2 1886.2 322.9 C1889.4 312.6 1892.2 302.4 1895.8 290.3 C1899.5 278.2 1903.5 263.5 1907.9 250.4 C1912.3 237.3 1917.6 223.9 1922.4 211.8 C1927.2 199.7 1931.7 187.6 1936.9 178 C1942.1 168.3 1948.2 159.2 1953.8 153.8 C1959.4 148.4 1964.7 146.1 1970.7 145.3 C1976.8 144.5 1983.6 145.9 1990 149 C1996.5 152 2002.9 157.8 2009.4 163.5 C2015.8 169.1 2022.7 175.9 2028.7 182.8 C2034.7 189.6 2040 196.9 2045.6 204.5 C2051.2 212.2 2059.7 224.7 2062.5 228.7" fill="none" stroke="#b60008" stroke-width="4.4" stroke-linecap="round" stroke-linejoin="round" filter="url(#bl1)"/><path d="M1659.6 228.7 C1662.3 224.1 1670 209.8 1676 200.9 C1682 192 1688.1 183.6 1695.3 175.5 C1702.6 167.5 1711.4 157.6 1719.5 152.6 C1727.5 147.6 1736.4 145.5 1743.6 145.3 C1750.9 145.1 1756.5 147.2 1763 151.4 C1769.4 155.6 1776.7 163.1 1782.3 170.7 C1787.9 178.4 1792 186.4 1796.8 197.3 C1801.6 208.2 1807.3 224.3 1811.3 235.9 C1815.3 247.6 1818.3 258.3 1820.9 267.3 C1823.6 276.4 1824.6 281 1827 290.3 C1829.4 299.5 1832.4 311.8 1835.4 322.9 C1838.5 334 1841.9 347.5 1845.1 356.7 C1848.3 366 1852.1 374 1854.8 378.5 C1857.4 382.9 1858.4 384.1 1860.8 383.3 C1863.2 382.5 1866.2 378.9 1869.3 373.6 C1872.3 368.4 1875.7 359.5 1878.9 351.9 C1882.1 344.2 1885.8 335 1888.6 327.7 C1891.4 320.5 1893.2 314.6 1895.8 308.4 C1898.4 302.2 1901.1 299.1 1904.3 290.3 C1907.5 281.4 1910.9 266.7 1915.2 255.3 C1919.4 243.8 1924.4 231.9 1929.6 221.4 C1934.9 211 1940.1 200.7 1946.6 192.5 C1953 184.2 1961.1 176.5 1968.3 171.9 C1975.5 167.3 1983.2 165.1 1990 164.7 C1996.9 164.3 2002.9 166.1 2009.4 169.5 C2015.8 172.9 2022.7 179 2028.7 185.2 C2034.7 191.4 2040 199.3 2045.6 206.9 C2051.2 214.6 2059.7 227.1 2062.5 231.1" fill="none" stroke="#3040ff" stroke-width="10" stroke-linecap="round" stroke-linejoin="round" opacity="0.3" filter="url(#bl2)"/><path d="M1659.6 228.7 C1662.3 224.1 1670 209.8 1676 200.9 C1682 192 1688.1 183.6 1695.3 175.5 C1702.6 167.5 1711.4 157.6 1719.5 152.6 C1727.5 147.6 1736.4 145.5 1743.6 145.3 C1750.9 145.1 1756.5 147.2 1763 151.4 C1769.4 155.6 1776.7 163.1 1782.3 170.7 C1787.9 178.4 1792 186.4 1796.8 197.3 C1801.6 208.2 1807.3 224.3 1811.3 235.9 C1815.3 247.6 1818.3 258.3 1820.9 267.3 C1823.6 276.4 1824.6 281 1827 290.3 C1829.4 299.5 1832.4 311.8 1835.4 322.9 C1838.5 334 1841.9 347.5 1845.1 356.7 C1848.3 366 1852.1 374 1854.8 378.5 C1857.4 382.9 1858.4 384.1 1860.8 383.3 C1863.2 382.5 1866.2 378.9 1869.3 373.6 C1872.3 368.4 1875.7 359.5 1878.9 351.9 C1882.1 344.2 1885.8 335 1888.6 327.7 C1891.4 320.5 1893.2 314.6 1895.8 308.4 C1898.4 302.2 1901.1 299.1 1904.3 290.3 C1907.5 281.4 1910.9 266.7 1915.2 255.3 C1919.4 243.8 1924.4 231.9 1929.6 221.4 C1934.9 211 1940.1 200.7 1946.6 192.5 C1953 184.2 1961.1 176.5 1968.3 171.9 C1975.5 167.3 1983.2 165.1 1990 164.7 C1996.9 164.3 2002.9 166.1 2009.4 169.5 C2015.8 172.9 2022.7 179 2028.7 185.2 C2034.7 191.4 2040 199.3 2045.6 206.9 C2051.2 214.6 2059.7 227.1 2062.5 231.1" fill="none" stroke="#06068e" stroke-width="4.4" stroke-linecap="round" stroke-linejoin="round" filter="url(#bl1)"/><path d="M1719.5 152.6 C1723.5 151.4 1736.4 145.5 1743.6 145.3 C1750.9 145.1 1756.5 147.2 1763 151.4 C1769.4 155.6 1776.7 163.1 1782.3 170.7 C1787.9 178.4 1792 186.4 1796.8 197.3 C1801.6 208.2 1807.3 224.3 1811.3 235.9 C1815.3 247.6 1818.3 258.3 1820.9 267.3 C1823.6 276.4 1826 286.5 1827 290.3" fill="none" stroke="#06068e" stroke-width="6.8" stroke-linecap="round" stroke-linejoin="round" filter="url(#bl1)"/><path d="M1907.9 250.4 C1910.3 244 1917.6 223.9 1922.4 211.8 C1927.2 199.7 1931.7 187.6 1936.9 178 C1942.1 168.3 1948.2 159.2 1953.8 153.8 C1959.4 148.4 1964.7 146.1 1970.7 145.3 C1976.8 144.5 1983.6 145.9 1990 149 C1996.5 152 2006.1 161 2009.4 163.5" fill="none" stroke="#b60008" stroke-width="6.8" stroke-linecap="round" stroke-linejoin="round" filter="url(#bl1)"/></g><line x1="1860.8" y1="70.8" x2="1860.8" y2="506.5" stroke="#b9b9b9" stroke-width="5" stroke-dasharray="11.1 23.5" stroke-dashoffset="21.9"/><line x1="1652.6" y1="287.9" x2="2069.3" y2="287.9" stroke="#b9b9b9" stroke-width="4.8" stroke-dasharray="11.1 23.5" stroke-dashoffset="32.4"/><rect x="2029.4" y="381.4" width="39" height="124" fill="#d9d9d9" /><linearGradient id="gRB" x1="0" y1="0" x2="0" y2="1"><stop offset="0" stop-color="#a00000"/><stop offset="0.3" stop-color="#f01010"/><stop offset="0.5" stop-color="#ffffff"/><stop offset="0.7" stop-color="#1010f0"/><stop offset="1" stop-color="#00009a"/></linearGradient><rect x="2035.5" y="417.2" width="27.2" height="49.5" fill="url(#gRB)" /><text x="2049" y="412.3" font-size="38" text-anchor="middle">H</text><text x="2049" y="496.3" font-size="38" text-anchor="middle">L</text></g><text x="1860.6" y="107" text-anchor="middle">With spin</text><rect x="1180.2" y="72" width="406.8" height="432.5" fill="none" stroke="#000" stroke-width="5" /><rect x="1652.6" y="70.8" width="416.7" height="435.7" fill="none" stroke="#000" stroke-width="4.5" /><line x1="1652.6" y1="179.9" x2="1657.6" y2="179.9" stroke="#000" stroke-width="2.5" /><text x="1176" y="86" text-anchor="end">500</text><text x="1176" y="194.1" text-anchor="end">250</text><text x="1176" y="302.3" text-anchor="end">0</text><text x="1176" y="410.4" text-anchor="end">-250</text><text x="1176" y="518.5" text-anchor="end">-500</text><text transform="translate(1100 287) rotate(-90)" text-anchor="middle"><tspan font-style="italic">E</tspan> (meV)</text><text x="1176.5" y="547.4" text-anchor="middle" font-style="italic">-M</text><line x1="1180" y1="511.8" x2="1200.5" y2="511.8" stroke="#000" stroke-width="2.6" /><text x="1384.5" y="547.4" text-anchor="middle" font-style="italic">Γ</text><line x1="1374.5" y1="511.8" x2="1398.5" y2="511.8" stroke="#000" stroke-width="2.6" /><text x="1583.5" y="547.4" text-anchor="middle" font-style="italic">M</text><line x1="1565.5" y1="511.8" x2="1601.5" y2="511.8" stroke="#000" stroke-width="2.6" /><text x="1652.5" y="547.4" text-anchor="middle" font-style="italic">-M</text><line x1="1656" y1="511.8" x2="1676.3" y2="511.8" stroke="#000" stroke-width="2.6" /><text x="1862.7" y="547.4" text-anchor="middle" font-style="italic">Γ</text><line x1="1852.5" y1="511.8" x2="1876.7" y2="511.8" stroke="#000" stroke-width="2.6" /><text x="2068" y="547.4" text-anchor="middle" font-style="italic">M</text><line x1="2050" y1="511.8" x2="2086" y2="511.8" stroke="#000" stroke-width="2.6" /><text x="0" y="652" font-weight="bold">d</text><text x="156.5" y="659.9">ARPES bulk bands</text><clipPath id="cpd"><rect x="129.2" y="683" width="410.9" height="436.3"/></clipPath><g clip-path="url(#cpd)"><g filter="url(#cmBlueD)"><rect x="124.2" y="678" width="420.9" height="446.3" fill="#1a1a1a" /><path d="M416.6 772.5 L540.7 772.5 L540.7 1123 L362.7 1123Z" fill="#333333" filter="url(#b25)"/><path d="M467.9 783.3 C465.6 793.6 459.8 822.8 454.4 845.3 C449 867.8 441.4 893.4 435.5 918.1 C429.7 942.8 423.4 969.8 419.3 993.6 C415.3 1017.4 413.3 1038.5 411.2 1061 C409.2 1083.5 407.9 1117.2 407.2 1128.4" fill="none" stroke="#6b6b6b" stroke-width="26" stroke-linecap="round" stroke-linejoin="round" filter="url(#b9)"/><path d="M419.3 1007.1 C418 1016.1 413.3 1040.8 411.2 1061 C409.2 1081.2 407.9 1117.2 407.2 1128.4" fill="none" stroke="#808080" stroke-width="22" stroke-linecap="round" stroke-linejoin="round" filter="url(#b9)"/><path d="M484 788.7 C482.7 800.3 478.7 838.1 476 858.8 C473.3 879.4 469.2 903.7 467.9 912.7" fill="none" stroke="#545454" stroke-width="16" stroke-linecap="round" stroke-linejoin="round" filter="url(#b9)"/><path d="M492.1 796.7 C494.4 809.8 501.1 851.1 505.6 874.9 C510.1 898.8 515.1 919.9 519.1 939.7 C523.1 959.4 526.5 976.5 529.9 993.6 C533.3 1010.7 537.8 1034 539.3 1042.1" fill="none" stroke="#8c8c8c" stroke-width="20" stroke-linecap="round" stroke-linejoin="round" filter="url(#b9)"/><path d="M536.6 831.8 C536.9 845.3 538 881.2 538.5 912.7 C539 944.2 539.4 1002.6 539.6 1020.6" fill="none" stroke="#8c8c8c" stroke-width="18" stroke-linecap="round" stroke-linejoin="round" filter="url(#b9)"/><path d="M497 775.7 C498.7 771.6 502.8 770.3 511 769.2 C519.2 768.2 540.2 751.6 546.1 769.2 C551.9 786.9 548.3 859.1 546.1 874.9 C543.8 890.8 538 873.1 532.6 864.2 C527.2 855.2 519 832.7 513.7 821 C508.4 809.3 503.6 801.6 500.8 794 C498 786.5 495.3 779.8 497 775.7Z" fill="#c7c7c7" filter="url(#b6)"/><path d="M506.2 782.7 C507.1 777.3 515.1 778.5 521.8 777.9 C528.5 777.3 542 765.7 546.1 779.2 C550.1 792.7 547.9 847.8 546.1 858.8 C544.3 869.8 540.2 853.4 535.3 845.3 C530.3 837.2 521.3 820.7 516.4 810.2 C511.6 799.8 505.3 788.1 506.2 782.7Z" fill="#f5f5f5" filter="url(#b6)"/></g></g><line x1="518.7" y1="721.6" x2="140.3" y2="721.6" stroke="#1f3fd8" stroke-width="2.4" stroke-dasharray="6.5 3.7"/><path d="M130.7 721.6 L146.7 712.3 L140.3 721.6 L146.7 730.9 Z" fill="#1f3fd8"/><text x="333" y="717" fill="#1f3fd8">1</text><text x="512.5" y="738.3" font-style="italic">T</text><rect x="129.2" y="683" width="410.9" height="436.3" fill="none" stroke="#000" stroke-width="3.2" /><line x1="129.2" y1="769.2" x2="145.2" y2="769.2" stroke="#000" stroke-width="3" /><line x1="129.2" y1="857.3" x2="145.2" y2="857.3" stroke="#000" stroke-width="3" /><line x1="129.2" y1="945.3" x2="145.2" y2="945.3" stroke="#000" stroke-width="3" /><line x1="129.2" y1="1032" x2="145.2" y2="1032" stroke="#000" stroke-width="3" /><line x1="138.2" y1="1119.3" x2="138.2" y2="1108.3" stroke="#000" stroke-width="3" /><line x1="339.8" y1="1119.3" x2="339.8" y2="1108.3" stroke="#000" stroke-width="3" /><text x="126.5" y="695.5" text-anchor="end">0.2</text><text x="126.5" y="783.5" text-anchor="end">0</text><text x="126.5" y="867.5" text-anchor="end">-0.2</text><text x="126.5" y="956.3" text-anchor="end">-0.4</text><text x="126.5" y="1042.9" text-anchor="end">-0.6</text><text x="126.5" y="1126.2" text-anchor="end">-0.8</text><text x="137.5" y="1159.5" text-anchor="middle">-0.8</text><text x="339.5" y="1159.5" text-anchor="middle">-0.4</text><text x="536.5" y="1159.5" text-anchor="middle">0.0</text><text x="290" y="1209"><tspan font-style="italic">k</tspan><tspan> (Å</tspan><tspan font-size="22" dy="-15">-1</tspan><tspan dy="15">)</tspan></text><text transform="translate(35 888) rotate(-90)" text-anchor="middle"><tspan font-style="italic">E</tspan><tspan font-size="22" dy="9" font-style="italic">b</tspan><tspan dy="-9"> (eV)</tspan></text><linearGradient id="gcbd" x1="0" y1="0" x2="0" y2="1"><stop offset="0.00" stop-color="rgb(0,0,40)"/><stop offset="0.10" stop-color="rgb(0,18,85)"/><stop offset="0.20" stop-color="rgb(0,45,140)"/><stop offset="0.30" stop-color="rgb(0,75,190)"/><stop offset="0.40" stop-color="rgb(8,105,220)"/><stop offset="0.50" stop-color="rgb(40,135,230)"/><stop offset="0.60" stop-color="rgb(95,168,237)"/><stop offset="0.70" stop-color="rgb(150,200,243)"/><stop offset="0.80" stop-color="rgb(196,225,248)"/><stop offset="0.90" stop-color="rgb(228,242,252)"/><stop offset="1.00" stop-color="rgb(255,255,255)"/></linearGradient><rect x="542.8" y="1035.4" width="35.6" height="44.6" fill="url(#gcbd)" /><text x="560.6" y="1030" text-anchor="middle">H</text><text x="562" y="1119" text-anchor="middle">L</text><text x="805.5" y="660.3" text-anchor="middle">DFT bulk bands</text><clipPath id="cpd2"><rect x="602.7" y="684" width="417.2" height="436.1"/></clipPath><g clip-path="url(#cpd2)"><line x1="602.7" y1="769.7" x2="1019.9" y2="769.7" stroke="#000" stroke-width="2.4" stroke-dasharray="5.5 3"/><path d="M883.5 1122 C886 1111.7 893.8 1082.3 898.8 1059.9 C903.8 1037.5 908.5 1011.6 913.3 987.5 C918.1 963.4 923 935.4 927.8 915.1 C932.6 894.8 937.4 878 942.2 865.9 C947 853.8 952.4 844.6 956.7 842.7 C961.1 840.8 964.4 846.6 968.3 854.3 C972.2 862 976 875 979.9 889 C983.8 903 987.6 920.9 991.5 938.3 C995.4 955.7 999.7 979.3 1003.1 993.3 C1006.5 1007.3 1009 1014.8 1011.7 1022.3 C1014.4 1029.8 1017.8 1035.5 1019.5 1038.5 C1021.2 1041.5 1021.6 1039.8 1022 1040" fill="none" stroke="#b803b8" stroke-width="5.8" stroke-linecap="round" stroke-linejoin="round" /></g><rect x="602.7" y="684" width="417.2" height="436.1" fill="none" stroke="#000" stroke-width="3.2" /><line x1="602.7" y1="769.7" x2="612.7" y2="769.7" stroke="#000" stroke-width="3" /><line x1="602.7" y1="857.8" x2="612.7" y2="857.8" stroke="#000" stroke-width="3" /><line x1="602.7" y1="944.9" x2="612.7" y2="944.9" stroke="#000" stroke-width="3" /><line x1="602.7" y1="1032.4" x2="612.7" y2="1032.4" stroke="#000" stroke-width="3" /><line x1="613" y1="1120.1" x2="613" y2="1109.1" stroke="#000" stroke-width="3" /><line x1="816.3" y1="1120.1" x2="816.3" y2="1109.1" stroke="#000" stroke-width="3" /><text x="1008" y="680.5" font-style="italic">T</text><text x="613.5" y="1159.8" text-anchor="middle">-0.8</text><text x="815.5" y="1159.8" text-anchor="middle">-0.4</text><text x="1011.7" y="1159.8" text-anchor="middle">0.0</text><text x="748" y="1213"><tspan font-style="italic">k</tspan><tspan> (Å</tspan><tspan font-size="22" dy="-15">-1</tspan><tspan dy="15">)</tspan></text><text x="1067" y="653" font-weight="bold">e</text><text x="1209.5" y="665.3">ARPES bulk bands</text><clipPath id="cpe"><rect x="1182" y="688.2" width="411.3" height="434.5"/></clipPath><g clip-path="url(#cpe)"><g filter="url(#cmBlueE)"><rect x="1177" y="683.2" width="421.3" height="444.5" fill="#3e3e3e" /><path d="M1430.8 842.2 L1515.1 842.2 L1565.6 1111.9 L1447.6 1111.9Z" fill="#525252" filter="url(#b25)"/><path d="M1188.1 741.1 L1296 741.1 L1262.2 1111.9 L1188.1 1111.9Z" fill="#383838" filter="url(#b25)"/><path d="M1585.8 859.1 C1586.4 878.8 1588.4 934.9 1589.2 977.1 C1590.1 1019.2 1590.6 1089.4 1590.9 1111.9" fill="none" stroke="#808080" stroke-width="12" stroke-linecap="round" stroke-linejoin="round" filter="url(#b6)"/><path d="M1561.6 778.2 C1563.8 774.4 1569.4 773 1575.7 772.1 C1582 771.3 1595.4 754.7 1599.3 773.1 C1603.3 791.6 1601 866.1 1599.3 882.7 C1597.6 899.3 1594.3 882.7 1589.2 872.6 C1584.2 862.5 1573.5 834.9 1569 822 C1564.5 809.1 1563.5 802.4 1562.2 795.1 C1561 787.8 1559.3 782 1561.6 778.2Z" fill="#c7c7c7" filter="url(#b3)"/><path d="M1569 788.3 C1570.9 783.5 1579.1 783.8 1584.2 783.3 C1589.2 782.7 1596.8 772.3 1599.3 784.9 C1601.8 797.6 1601.6 849.5 1599.3 859.1 C1597.1 868.6 1590.3 850.1 1585.8 842.2 C1581.3 834.4 1575.2 820.9 1572.4 811.9 C1569.5 802.9 1567 793.1 1569 788.3Z" fill="#f2f2f2" filter="url(#b3)"/></g></g><line x1="1564" y1="736.1" x2="1199.4" y2="736.1" stroke="#1f3fd8" stroke-width="2.4" stroke-dasharray="6.5 3.7"/><path d="M1189.8 736.1 L1205.8 726.8 L1199.4 736.1 L1205.8 745.4 Z" fill="#1f3fd8"/><text x="1355.5" y="731" fill="#1f3fd8">2</text><text x="1564" y="748" font-style="italic">Γ</text><rect x="1182" y="688.2" width="411.3" height="434.5" fill="none" stroke="#000" stroke-width="3.2" /><line x1="1182" y1="775.5" x2="1198" y2="775.5" stroke="#000" stroke-width="3" /><line x1="1182" y1="863.1" x2="1198" y2="863.1" stroke="#000" stroke-width="3" /><line x1="1182" y1="949.4" x2="1198" y2="949.4" stroke="#000" stroke-width="3" /><line x1="1182" y1="1036.7" x2="1198" y2="1036.7" stroke="#000" stroke-width="3" /><line x1="1387.6" y1="1122.7" x2="1387.6" y2="1110.7" stroke="#000" stroke-width="3" /><text x="1180.5" y="702.2" text-anchor="end">0.2</text><text x="1180.5" y="789.5" text-anchor="end">0</text><text x="1180.5" y="877.1" text-anchor="end">-0.2</text><text x="1180.5" y="963.4" text-anchor="end">-0.4</text><text x="1180.5" y="1050.7" text-anchor="end">-0.6</text><text x="1180.5" y="1136.7" text-anchor="end">-0.8</text><text x="1182.5" y="1166" text-anchor="middle">-1.0</text><text x="1388.7" y="1166" text-anchor="middle">-0.5</text><text x="1586.7" y="1166" text-anchor="middle">0.0</text><text x="1329" y="1216"><tspan font-style="italic">k</tspan><tspan> (Å</tspan><tspan font-size="22" dy="-15">-1</tspan><tspan dy="15">)</tspan></text><text transform="translate(1088 894) rotate(-90)" text-anchor="middle"><tspan font-style="italic">E</tspan><tspan font-size="22" dy="9" font-style="italic">b</tspan><tspan dy="-9"> (eV)</tspan></text><linearGradient id="gcbe" x1="0" y1="0" x2="0" y2="1"><stop offset="0.00" stop-color="rgb(0,0,40)"/><stop offset="0.10" stop-color="rgb(0,18,85)"/><stop offset="0.20" stop-color="rgb(0,45,140)"/><stop offset="0.30" stop-color="rgb(0,75,190)"/><stop offset="0.40" stop-color="rgb(8,105,220)"/><stop offset="0.50" stop-color="rgb(40,135,230)"/><stop offset="0.60" stop-color="rgb(95,168,237)"/><stop offset="0.70" stop-color="rgb(150,200,243)"/><stop offset="0.80" stop-color="rgb(196,225,248)"/><stop offset="0.90" stop-color="rgb(228,242,252)"/><stop offset="1.00" stop-color="rgb(255,255,255)"/></linearGradient><rect x="1597.6" y="1040.4" width="35.4" height="46.2" fill="url(#gcbe)" /><text x="1615.3" y="1036" text-anchor="middle">H</text><text x="1616.5" y="1122" text-anchor="middle">L</text><text x="1859.1" y="663.6" text-anchor="middle">DFT bulk bands</text><line x1="1654.6" y1="777.1" x2="2070.4" y2="777.1" stroke="#000" stroke-width="2.4" stroke-dasharray="5.5 3"/><rect x="1654.6" y="688.7" width="415.8" height="435" fill="none" stroke="#000" stroke-width="3.2" /><line x1="1654.6" y1="864.2" x2="1666.6" y2="864.2" stroke="#000" stroke-width="3" /><line x1="1654.6" y1="951.2" x2="1666.6" y2="951.2" stroke="#000" stroke-width="3" /><line x1="1654.6" y1="1038.2" x2="1666.6" y2="1038.2" stroke="#000" stroke-width="3" /><line x1="1861.9" y1="1123.7" x2="1861.9" y2="1111.7" stroke="#000" stroke-width="3" /><text x="2058" y="688.7" font-style="italic">Γ</text><text x="1664.2" y="1165" text-anchor="middle">-1.0</text><text x="1858.8" y="1165" text-anchor="middle">-0.5</text><text x="2069" y="1165" text-anchor="middle">0.0</text><text x="1801" y="1220"><tspan font-style="italic">k</tspan><tspan> (Å</tspan><tspan font-size="22" dy="-15">-1</tspan><tspan dy="15">)</tspan></text><text x="2" y="1287" font-weight="bold">f</text><text x="165.5" y="1285.4">ARPES bulk bands</text><clipPath id="cpf"><rect x="134.8" y="1307.3" width="410.6" height="439.2"/></clipPath><g clip-path="url(#cpf)"><g filter="url(#cmBlueF)"><rect x="129.8" y="1302.3" width="420.6" height="449.2" fill="#3d3d3d" /><path d="M444.9 1401.7 C446.1 1427 448.9 1497.2 451.7 1553.4 C454.5 1609.5 460.1 1707.9 461.8 1738.8" fill="none" stroke="#262626" stroke-width="45" stroke-linecap="round" stroke-linejoin="round" filter="url(#b14)"/><path d="M502.2 1465.7 C503.9 1486 508.4 1541.6 512.4 1587.1 C516.3 1632.6 523.6 1713.5 525.8 1738.8" fill="none" stroke="#707070" stroke-width="24" stroke-linecap="round" stroke-linejoin="round" filter="url(#b9)"/><path d="M387.6 1418.5 C384.8 1441 379.2 1514 370.8 1553.4 C362.4 1592.7 342.7 1637.6 337.1 1654.5" fill="none" stroke="#4c4c4c" stroke-width="30" stroke-linecap="round" stroke-linejoin="round" filter="url(#b14)"/><path d="M128.1 1688.2 L303.4 1587.1 L337.1 1755.6 L128.1 1755.6Z" fill="#616161" filter="url(#b25)"/><path d="M128.1 1718.5 L337.1 1718.5 L337.1 1755.6 L128.1 1755.6Z" fill="#707070" filter="url(#b14)"/><path d="M292.6 1386.5 L369.1 1386.5 L342.5 1441.5 L313.8 1488.6 L283.5 1547.6 L262.2 1594.8 L229.2 1642 L189.1 1677.4 L153.7 1701 L124.7 1718.5 L124.7 1526.4 L200.9 1517 L241 1488.6 L271.7 1441.5 L289.9 1398.3Z" fill="#0a0a0a" filter="url(#b9)"/><rect x="129.8" y="1302.3" width="420.6" height="89.7" fill="#080808" filter="url(#b3)"/><path d="M131.5 1390.9 L293.3 1390.9 L286.5 1411.8 L269.7 1442.1 L239.3 1479.2 L205.6 1506.2 L168.5 1521.3 L131.5 1523.7Z" fill="#a3a3a3" filter="url(#b6)"/><path d="M141.6 1398.3 L242.7 1398.3 L232.6 1432 L209 1459 L175.3 1469.1 L141.6 1469.1Z" fill="#c7c7c7" filter="url(#b9)"/><path d="M509 1398.3 C511.5 1394.8 516.8 1391.7 524.2 1390.9 C531.5 1390.1 548 1374 552.8 1393.3 C557.6 1412.5 555 1489.6 552.8 1506.2 C550.6 1522.7 545.2 1503.9 539.3 1492.7 C533.4 1481.5 522.5 1452.2 517.4 1438.8 C512.4 1425.3 510.4 1418.5 509 1411.8 C507.6 1405.1 506.5 1401.8 509 1398.3Z" fill="#c2c2c2" filter="url(#b3)"/><path d="M519.1 1408.4 C520.7 1403.4 527 1403.9 532.6 1403.4 C538.2 1402.8 549.4 1390.7 552.8 1405.1 C556.2 1419.4 554.8 1477.8 552.8 1489.3 C550.8 1500.8 545.9 1483.4 541 1474.2 C536.1 1464.9 526.8 1444.7 523.1 1433.7 C519.5 1422.8 517.5 1413.5 519.1 1408.4Z" fill="#f2f2f2" filter="url(#b3)"/></g></g><line x1="545" y1="1350.4" x2="169.7" y2="1350.4" stroke="#1f3fd8" stroke-width="2.4" stroke-dasharray="6.5 3.7"/><path d="M160.1 1350.4 L176.1 1341.1 L169.7 1350.4 L176.1 1359.7 Z" fill="#1f3fd8"/><text x="341.5" y="1347.8" fill="#1f3fd8">3</text><text x="141" y="1368" font-style="italic">L</text><rect x="134.8" y="1307.3" width="410.6" height="439.2" fill="none" stroke="#000" stroke-width="3.2" /><line x1="134.8" y1="1395.6" x2="150.8" y2="1395.6" stroke="#000" stroke-width="3" /><line x1="134.8" y1="1482.6" x2="150.8" y2="1482.6" stroke="#000" stroke-width="3" /><line x1="134.8" y1="1570.9" x2="150.8" y2="1570.9" stroke="#000" stroke-width="3" /><line x1="134.8" y1="1658.5" x2="150.8" y2="1658.5" stroke="#000" stroke-width="3" /><line x1="341.1" y1="1746.5" x2="341.1" y2="1734.5" stroke="#000" stroke-width="3" /><text x="131.5" y="1321.3" text-anchor="end">0.2</text><text x="131.5" y="1409.6" text-anchor="end">0</text><text x="131.5" y="1496.6" text-anchor="end">-0.2</text><text x="131.5" y="1584.9" text-anchor="end">-0.4</text><text x="131.5" y="1672.5" text-anchor="end">-0.6</text><text x="131.5" y="1760.5" text-anchor="end">-0.8</text><text x="134" y="1786" text-anchor="middle">-1.0</text><text x="341.3" y="1786" text-anchor="middle">-0.5</text><text x="537.6" y="1786" text-anchor="middle">0.0</text><text x="279.5" y="1840"><tspan font-style="italic">k</tspan><tspan> (Å</tspan><tspan font-size="22" dy="-15">-1</tspan><tspan dy="15">)</tspan></text><text transform="translate(52 1510) rotate(-90)" text-anchor="middle"><tspan font-style="italic">E</tspan><tspan font-size="22" dy="9" font-style="italic">b</tspan><tspan dy="-9"> (eV)</tspan></text><linearGradient id="gcbf" x1="0" y1="0" x2="0" y2="1"><stop offset="0.00" stop-color="rgb(0,0,40)"/><stop offset="0.10" stop-color="rgb(0,18,85)"/><stop offset="0.20" stop-color="rgb(0,45,140)"/><stop offset="0.30" stop-color="rgb(0,75,190)"/><stop offset="0.40" stop-color="rgb(8,105,220)"/><stop offset="0.50" stop-color="rgb(40,135,230)"/><stop offset="0.60" stop-color="rgb(95,168,237)"/><stop offset="0.70" stop-color="rgb(150,200,243)"/><stop offset="0.80" stop-color="rgb(196,225,248)"/><stop offset="0.90" stop-color="rgb(228,242,252)"/><stop offset="1.00" stop-color="rgb(255,255,255)"/></linearGradient><rect x="550" y="1663" width="35.8" height="40.4" fill="url(#gcbf)" /><text x="567.5" y="1654.5" text-anchor="middle">H</text><text x="569.5" y="1745.5" text-anchor="middle">L</text><text x="810.5" y="1284.7" text-anchor="middle">DFT bulk bands</text><clipPath id="cpf2"><rect x="607.8" y="1307.9" width="414.7" height="439.6"/></clipPath><g clip-path="url(#cpf2)"><line x1="607.8" y1="1393.9" x2="1022.5" y2="1393.9" stroke="#000" stroke-width="2.4" stroke-dasharray="5.5 3"/><path d="M727 1300 C725.8 1303 722.2 1312 719.8 1318 C717.3 1324 714.8 1330 712.3 1336 C709.8 1342 707.2 1348 704.6 1354 C702 1360 699.4 1366 696.7 1372 C694 1378 691.3 1384 688.5 1390 C685.7 1396 682.9 1402 680 1408 C677.1 1414 674.3 1420 671.4 1426 C668.5 1432 665.4 1438 662.4 1444 C659.4 1450 656.4 1456 653.3 1462 C650.2 1468 647.1 1474 643.9 1480 C640.7 1486 637.5 1492 634.2 1498 C630.9 1504 627.6 1510 624.3 1516 C621 1522 617.6 1528 614.2 1534 C610.8 1540 605.5 1549 603.8 1552" fill="none" stroke="#3da0ad" stroke-width="5.8" stroke-linecap="round" stroke-linejoin="round" /><path d="M604 1602 C608.7 1605.6 623.8 1617.8 632.4 1623.6 C641 1629.4 647.1 1633.7 655.6 1636.6 C664.1 1639.5 673.9 1641.6 683.1 1640.9 C692.3 1640.2 701.2 1637.1 710.6 1632.3 C720 1627.5 729.9 1620.2 739.5 1612 C749.1 1603.8 758.8 1595.1 768.5 1583 C778.2 1570.9 787.9 1555.5 797.5 1539.6 C807.1 1523.7 817.7 1503.9 826.4 1487.5 C835.1 1471.1 842.4 1456.5 849.6 1441.1 C856.8 1425.6 863.5 1408.8 869.8 1394.8 C876.1 1380.8 881.9 1367.2 887.2 1357.1 C892.5 1347 897.6 1338.6 901.7 1334 C905.8 1329.4 908.2 1329.1 911.8 1329.6 C915.4 1330.1 919.3 1329.9 923.4 1336.9 C927.5 1343.9 932.3 1359 936.4 1371.6 C940.5 1384.1 943.6 1394.8 948 1412.2 C952.4 1429.6 957.7 1453.7 962.5 1475.9 C967.3 1498.1 972.2 1522.2 977 1545.4 C981.8 1568.6 986.7 1592.7 991.5 1614.9 C996.3 1637.1 1001.2 1660 1006 1678.6 C1010.8 1697.2 1017.2 1717.2 1020.4 1726.4 C1023.6 1735.6 1024.2 1732.7 1025 1734" fill="none" stroke="#b803b8" stroke-width="5.8" stroke-linecap="round" stroke-linejoin="round" /></g><rect x="607.8" y="1307.9" width="414.7" height="439.6" fill="none" stroke="#000" stroke-width="3.2" /><line x1="607.8" y1="1393.9" x2="625.8" y2="1393.9" stroke="#000" stroke-width="3" /><line x1="607.8" y1="1482.5" x2="625.8" y2="1482.5" stroke="#000" stroke-width="3" /><line x1="607.8" y1="1570.6" x2="625.8" y2="1570.6" stroke="#000" stroke-width="3" /><line x1="607.8" y1="1658.9" x2="625.8" y2="1658.9" stroke="#000" stroke-width="3" /><line x1="815.4" y1="1747.5" x2="815.4" y2="1735.5" stroke="#000" stroke-width="3" /><text x="600" y="1296.3" font-style="italic">L</text><text x="610.5" y="1782.8" text-anchor="middle">-1.0</text><text x="815.5" y="1782.8" text-anchor="middle">-0.5</text><text x="1017.5" y="1782.8" text-anchor="middle">0.0</text><text x="751" y="1837.8"><tspan font-style="italic">k</tspan><tspan> (Å</tspan><tspan font-size="22" dy="-15">-1</tspan><tspan dy="15">)</tspan></text><text x="1062" y="1283" font-weight="bold">g</text><text x="1625.4" y="1302" text-anchor="middle">ARPES photon energy dependence</text><clipPath id="cpg"><rect x="1194.7" y="1316.4" width="889.8" height="434.4"/></clipPath><g clip-path="url(#cpg)"><g filter="url(#cmBlueG)"><rect x="1189.7" y="1311.4" width="899.8" height="444.4" fill="#050505" /><g filter="url(#vbl)"><rect x="1283.5" y="1484.4" width="19.7" height="10.8" fill="#181818" /><rect x="1283.5" y="1473.6" width="19.7" height="10.8" fill="#1b1b1b" /><rect x="1283.5" y="1462.7" width="19.7" height="10.8" fill="#1c1c1c" /><rect x="1283.5" y="1451.9" width="19.7" height="10.8" fill="#202020" /><rect x="1283.5" y="1441" width="19.7" height="10.8" fill="#1b1b1b" /><rect x="1283.5" y="1430.2" width="19.7" height="10.8" fill="#1f1f1f" /><rect x="1283.5" y="1408.5" width="19.7" height="10.8" fill="#141414" /><rect x="1283.5" y="1397.7" width="19.7" height="10.8" fill="#202020" /><rect x="1283.5" y="1386.8" width="19.7" height="10.8" fill="#181818" /><rect x="1283.5" y="1376" width="19.7" height="10.8" fill="#1f1f1f" /><rect x="1283.5" y="1354.3" width="19.7" height="10.8" fill="#0a0a0a" /><rect x="1283.5" y="1332.6" width="19.7" height="10.8" fill="#0b0b0b" /><rect x="1283.5" y="1579.8" width="19.7" height="10.8" fill="#161616" /><rect x="1283.5" y="1623.2" width="19.7" height="10.8" fill="#1f1f1f" /><rect x="1283.5" y="1634" width="19.7" height="10.8" fill="#1b1b1b" /><rect x="1283.5" y="1655.7" width="19.7" height="10.8" fill="#1c1c1c" /><rect x="1283.5" y="1677.4" width="19.7" height="10.8" fill="#171717" /><rect x="1283.5" y="1710" width="19.7" height="10.8" fill="#1e1e1e" /><rect x="1283.5" y="1742.5" width="19.7" height="10.8" fill="#212121" /><rect x="1303.3" y="1484.4" width="19.7" height="10.8" fill="#1e1e1e" /><rect x="1303.3" y="1462.7" width="19.7" height="10.8" fill="#202020" /><rect x="1303.3" y="1451.9" width="19.7" height="10.8" fill="#151515" /><rect x="1303.3" y="1441" width="19.7" height="10.8" fill="#191919" /><rect x="1303.3" y="1419.3" width="19.7" height="10.8" fill="#202020" /><rect x="1303.3" y="1408.5" width="19.7" height="10.8" fill="#191919" /><rect x="1303.3" y="1397.7" width="19.7" height="10.8" fill="#202020" /><rect x="1303.3" y="1386.8" width="19.7" height="10.8" fill="#1e1e1e" /><rect x="1303.3" y="1590.7" width="19.7" height="10.8" fill="#171717" /><rect x="1303.3" y="1612.4" width="19.7" height="10.8" fill="#191919" /><rect x="1303.3" y="1644.9" width="19.7" height="10.8" fill="#1d1d1d" /><rect x="1303.3" y="1688.3" width="19.7" height="10.8" fill="#1a1a1a" /><rect x="1303.3" y="1710" width="19.7" height="10.8" fill="#212121" /><rect x="1303.3" y="1731.6" width="19.7" height="10.8" fill="#1b1b1b" /><rect x="1303.3" y="1742.5" width="19.7" height="10.8" fill="#1d1d1d" /><rect x="1323" y="1473.6" width="19.7" height="10.8" fill="#1c1c1c" /><rect x="1323" y="1451.9" width="19.7" height="10.8" fill="#161616" /><rect x="1323" y="1408.5" width="19.7" height="10.8" fill="#202020" /><rect x="1323" y="1386.8" width="19.7" height="10.8" fill="#1b1b1b" /><rect x="1323" y="1376" width="19.7" height="10.8" fill="#1f1f1f" /><rect x="1323" y="1365.1" width="19.7" height="10.8" fill="#202020" /><rect x="1323" y="1332.6" width="19.7" height="10.8" fill="#0b0b0b" /><rect x="1323" y="1579.8" width="19.7" height="10.8" fill="#1b1b1b" /><rect x="1323" y="1601.5" width="19.7" height="10.8" fill="#1b1b1b" /><rect x="1323" y="1612.4" width="19.7" height="10.8" fill="#1c1c1c" /><rect x="1323" y="1623.2" width="19.7" height="10.8" fill="#1e1e1e" /><rect x="1323" y="1644.9" width="19.7" height="10.8" fill="#202020" /><rect x="1323" y="1677.4" width="19.7" height="10.8" fill="#171717" /><rect x="1323" y="1688.3" width="19.7" height="10.8" fill="#1f1f1f" /><rect x="1323" y="1710" width="19.7" height="10.8" fill="#1f1f1f" /><rect x="1323" y="1720.8" width="19.7" height="10.8" fill="#161616" /><rect x="1342.8" y="1451.9" width="19.7" height="10.8" fill="#191919" /><rect x="1342.8" y="1441" width="19.7" height="10.8" fill="#212121" /><rect x="1342.8" y="1408.5" width="19.7" height="10.8" fill="#212121" /><rect x="1342.8" y="1397.7" width="19.7" height="10.8" fill="#151515" /><rect x="1342.8" y="1365.1" width="19.7" height="10.8" fill="#171717" /><rect x="1342.8" y="1354.3" width="19.7" height="10.8" fill="#0e0e0e" /><rect x="1342.8" y="1343.4" width="19.7" height="10.8" fill="#0a0a0a" /><rect x="1342.8" y="1590.7" width="19.7" height="10.8" fill="#1f1f1f" /><rect x="1342.8" y="1623.2" width="19.7" height="10.8" fill="#1d1d1d" /><rect x="1342.8" y="1644.9" width="19.7" height="10.8" fill="#1a1a1a" /><rect x="1342.8" y="1655.7" width="19.7" height="10.8" fill="#202020" /><rect x="1342.8" y="1666.6" width="19.7" height="10.8" fill="#181818" /><rect x="1342.8" y="1677.4" width="19.7" height="10.8" fill="#1c1c1c" /><rect x="1342.8" y="1720.8" width="19.7" height="10.8" fill="#1d1d1d" /><rect x="1362.5" y="1484.4" width="19.7" height="10.8" fill="#212121" /><rect x="1362.5" y="1473.6" width="19.7" height="10.8" fill="#1d1d1d" /><rect x="1362.5" y="1462.7" width="19.7" height="10.8" fill="#212121" /><rect x="1362.5" y="1451.9" width="19.7" height="10.8" fill="#131313" /><rect x="1362.5" y="1441" width="19.7" height="10.8" fill="#141414" /><rect x="1362.5" y="1430.2" width="19.7" height="10.8" fill="#1a1a1a" /><rect x="1362.5" y="1419.3" width="19.7" height="10.8" fill="#141414" /><rect x="1362.5" y="1365.1" width="19.7" height="10.8" fill="#212121" /><rect x="1362.5" y="1354.3" width="19.7" height="10.8" fill="#101010" /><rect x="1362.5" y="1343.4" width="19.7" height="10.8" fill="#0c0c0c" /><rect x="1362.5" y="1332.6" width="19.7" height="10.8" fill="#0a0a0a" /><rect x="1362.5" y="1612.4" width="19.7" height="10.8" fill="#1c1c1c" /><rect x="1362.5" y="1623.2" width="19.7" height="10.8" fill="#1e1e1e" /><rect x="1362.5" y="1644.9" width="19.7" height="10.8" fill="#1c1c1c" /><rect x="1362.5" y="1655.7" width="19.7" height="10.8" fill="#1b1b1b" /><rect x="1362.5" y="1666.6" width="19.7" height="10.8" fill="#191919" /><rect x="1362.5" y="1677.4" width="19.7" height="10.8" fill="#191919" /><rect x="1362.5" y="1688.3" width="19.7" height="10.8" fill="#1b1b1b" /><rect x="1362.5" y="1710" width="19.7" height="10.8" fill="#1a1a1a" /><rect x="1362.5" y="1742.5" width="19.7" height="10.8" fill="#1b1b1b" /><rect x="1382.2" y="1484.4" width="19.7" height="10.8" fill="#333333" /><rect x="1382.2" y="1462.7" width="19.7" height="10.8" fill="#404040" /><rect x="1382.2" y="1451.9" width="19.7" height="10.8" fill="#303030" /><rect x="1382.2" y="1441" width="19.7" height="10.8" fill="#2d2d2d" /><rect x="1382.2" y="1419.3" width="19.7" height="10.8" fill="#2b2b2b" /><rect x="1382.2" y="1397.7" width="19.7" height="10.8" fill="#323232" /><rect x="1382.2" y="1386.8" width="19.7" height="10.8" fill="#272727" /><rect x="1382.2" y="1376" width="19.7" height="10.8" fill="#393939" /><rect x="1382.2" y="1365.1" width="19.7" height="10.8" fill="#303030" /><rect x="1382.2" y="1354.3" width="19.7" height="10.8" fill="#383838" /><rect x="1382.2" y="1332.6" width="19.7" height="10.8" fill="#303030" /><rect x="1382.2" y="1579.8" width="19.7" height="10.8" fill="#1a1a1a" /><rect x="1382.2" y="1590.7" width="19.7" height="10.8" fill="#1d1d1d" /><rect x="1382.2" y="1612.4" width="19.7" height="10.8" fill="#1d1d1d" /><rect x="1382.2" y="1623.2" width="19.7" height="10.8" fill="#1e1e1e" /><rect x="1382.2" y="1634" width="19.7" height="10.8" fill="#191919" /><rect x="1382.2" y="1644.9" width="19.7" height="10.8" fill="#212121" /><rect x="1382.2" y="1655.7" width="19.7" height="10.8" fill="#202020" /><rect x="1382.2" y="1666.6" width="19.7" height="10.8" fill="#151515" /><rect x="1382.2" y="1677.4" width="19.7" height="10.8" fill="#151515" /><rect x="1382.2" y="1699.1" width="19.7" height="10.8" fill="#1d1d1d" /><rect x="1382.2" y="1710" width="19.7" height="10.8" fill="#202020" /><rect x="1382.2" y="1731.6" width="19.7" height="10.8" fill="#191919" /><rect x="1382.2" y="1742.5" width="19.7" height="10.8" fill="#1a1a1a" /><rect x="1402" y="1484.4" width="19.7" height="10.8" fill="#353535" /><rect x="1402" y="1462.7" width="19.7" height="10.8" fill="#373737" /><rect x="1402" y="1451.9" width="19.7" height="10.8" fill="#2d2d2d" /><rect x="1402" y="1441" width="19.7" height="10.8" fill="#313131" /><rect x="1402" y="1419.3" width="19.7" height="10.8" fill="#2f2f2f" /><rect x="1402" y="1408.5" width="19.7" height="10.8" fill="#373737" /><rect x="1402" y="1397.7" width="19.7" height="10.8" fill="#303030" /><rect x="1402" y="1386.8" width="19.7" height="10.8" fill="#343434" /><rect x="1402" y="1343.4" width="19.7" height="10.8" fill="#303030" /><rect x="1402" y="1579.8" width="19.7" height="10.8" fill="#191919" /><rect x="1402" y="1590.7" width="19.7" height="10.8" fill="#181818" /><rect x="1402" y="1720.8" width="19.7" height="10.8" fill="#171717" /><rect x="1402" y="1731.6" width="19.7" height="10.8" fill="#171717" /><rect x="1421.7" y="1484.4" width="19.7" height="10.8" fill="#3d3d3d" /><rect x="1421.7" y="1419.3" width="19.7" height="10.8" fill="#3a3a3a" /><rect x="1421.7" y="1386.8" width="19.7" height="10.8" fill="#2f2f2f" /><rect x="1421.7" y="1365.1" width="19.7" height="10.8" fill="#2b2b2b" /><rect x="1421.7" y="1343.4" width="19.7" height="10.8" fill="#2d2d2d" /><rect x="1421.7" y="1332.6" width="19.7" height="10.8" fill="#404040" /><rect x="1421.7" y="1579.8" width="19.7" height="10.8" fill="#1d1d1d" /><rect x="1421.7" y="1601.5" width="19.7" height="10.8" fill="#1c1c1c" /><rect x="1421.7" y="1612.4" width="19.7" height="10.8" fill="#181818" /><rect x="1421.7" y="1644.9" width="19.7" height="10.8" fill="#171717" /><rect x="1421.7" y="1655.7" width="19.7" height="10.8" fill="#161616" /><rect x="1421.7" y="1666.6" width="19.7" height="10.8" fill="#202020" /><rect x="1421.7" y="1677.4" width="19.7" height="10.8" fill="#202020" /><rect x="1421.7" y="1688.3" width="19.7" height="10.8" fill="#171717" /><rect x="1421.7" y="1710" width="19.7" height="10.8" fill="#1e1e1e" /><rect x="1421.7" y="1742.5" width="19.7" height="10.8" fill="#161616" /><rect x="1441.5" y="1484.4" width="19.7" height="10.8" fill="#2f2f2f" /><rect x="1441.5" y="1462.7" width="19.7" height="10.8" fill="#2f2f2f" /><rect x="1441.5" y="1451.9" width="19.7" height="10.8" fill="#3d3d3d" /><rect x="1441.5" y="1397.7" width="19.7" height="10.8" fill="#414141" /><rect x="1441.5" y="1376" width="19.7" height="10.8" fill="#404040" /><rect x="1441.5" y="1365.1" width="19.7" height="10.8" fill="#3e3e3e" /><rect x="1441.5" y="1354.3" width="19.7" height="10.8" fill="#2e2e2e" /><rect x="1441.5" y="1332.6" width="19.7" height="10.8" fill="#414141" /><rect x="1441.5" y="1612.4" width="19.7" height="10.8" fill="#212121" /><rect x="1441.5" y="1666.6" width="19.7" height="10.8" fill="#181818" /><rect x="1441.5" y="1699.1" width="19.7" height="10.8" fill="#1c1c1c" /><rect x="1441.5" y="1710" width="19.7" height="10.8" fill="#1d1d1d" /><rect x="1441.5" y="1731.6" width="19.7" height="10.8" fill="#151515" /><rect x="1461.2" y="1484.4" width="19.7" height="10.8" fill="#3f3f3f" /><rect x="1461.2" y="1473.6" width="19.7" height="10.8" fill="#373737" /><rect x="1461.2" y="1430.2" width="19.7" height="10.8" fill="#424242" /><rect x="1461.2" y="1408.5" width="19.7" height="10.8" fill="#2e2e2e" /><rect x="1461.2" y="1397.7" width="19.7" height="10.8" fill="#282828" /><rect x="1461.2" y="1386.8" width="19.7" height="10.8" fill="#303030" /><rect x="1461.2" y="1376" width="19.7" height="10.8" fill="#2e2e2e" /><rect x="1461.2" y="1365.1" width="19.7" height="10.8" fill="#353535" /><rect x="1461.2" y="1343.4" width="19.7" height="10.8" fill="#363636" /><rect x="1461.2" y="1579.8" width="19.7" height="10.8" fill="#151515" /><rect x="1461.2" y="1612.4" width="19.7" height="10.8" fill="#151515" /><rect x="1461.2" y="1644.9" width="19.7" height="10.8" fill="#1b1b1b" /><rect x="1461.2" y="1655.7" width="19.7" height="10.8" fill="#171717" /><rect x="1461.2" y="1699.1" width="19.7" height="10.8" fill="#1f1f1f" /><rect x="1461.2" y="1710" width="19.7" height="10.8" fill="#1e1e1e" /><rect x="1461.2" y="1720.8" width="19.7" height="10.8" fill="#161616" /><rect x="1461.2" y="1742.5" width="19.7" height="10.8" fill="#1b1b1b" /><rect x="1480.9" y="1473.6" width="19.7" height="10.8" fill="#2d2d2d" /><rect x="1480.9" y="1462.7" width="19.7" height="10.8" fill="#333333" /><rect x="1480.9" y="1451.9" width="19.7" height="10.8" fill="#303030" /><rect x="1480.9" y="1441" width="19.7" height="10.8" fill="#282828" /><rect x="1480.9" y="1430.2" width="19.7" height="10.8" fill="#3e3e3e" /><rect x="1480.9" y="1397.7" width="19.7" height="10.8" fill="#3b3b3b" /><rect x="1480.9" y="1365.1" width="19.7" height="10.8" fill="#3a3a3a" /><rect x="1480.9" y="1343.4" width="19.7" height="10.8" fill="#3a3a3a" /><rect x="1480.9" y="1332.6" width="19.7" height="10.8" fill="#333333" /><rect x="1480.9" y="1601.5" width="19.7" height="10.8" fill="#1c1c1c" /><rect x="1480.9" y="1612.4" width="19.7" height="10.8" fill="#1f1f1f" /><rect x="1480.9" y="1644.9" width="19.7" height="10.8" fill="#161616" /><rect x="1480.9" y="1688.3" width="19.7" height="10.8" fill="#171717" /><rect x="1480.9" y="1699.1" width="19.7" height="10.8" fill="#1c1c1c" /><rect x="1480.9" y="1731.6" width="19.7" height="10.8" fill="#1d1d1d" /><rect x="1480.9" y="1742.5" width="19.7" height="10.8" fill="#1c1c1c" /><rect x="1500.7" y="1484.4" width="19.7" height="10.8" fill="#141414" /><rect x="1500.7" y="1462.7" width="19.7" height="10.8" fill="#151515" /><rect x="1500.7" y="1451.9" width="19.7" height="10.8" fill="#1a1a1a" /><rect x="1500.7" y="1441" width="19.7" height="10.8" fill="#1a1a1a" /><rect x="1500.7" y="1430.2" width="19.7" height="10.8" fill="#333333" /><rect x="1500.7" y="1408.5" width="19.7" height="10.8" fill="#3a3a3a" /><rect x="1500.7" y="1386.8" width="19.7" height="10.8" fill="#303030" /><rect x="1500.7" y="1376" width="19.7" height="10.8" fill="#404040" /><rect x="1500.7" y="1365.1" width="19.7" height="10.8" fill="#343434" /><rect x="1500.7" y="1332.6" width="19.7" height="10.8" fill="#3e3e3e" /><rect x="1520.4" y="1473.6" width="19.7" height="10.8" fill="#131313" /><rect x="1520.4" y="1441" width="19.7" height="10.8" fill="#131313" /><rect x="1520.4" y="1376" width="19.7" height="10.8" fill="#2d2d2d" /><rect x="1520.4" y="1365.1" width="19.7" height="10.8" fill="#353535" /><rect x="1520.4" y="1354.3" width="19.7" height="10.8" fill="#3c3c3c" /><rect x="1540.2" y="1473.6" width="19.7" height="10.8" fill="#121212" /><rect x="1540.2" y="1462.7" width="19.7" height="10.8" fill="#101010" /><rect x="1540.2" y="1451.9" width="19.7" height="10.8" fill="#191919" /><rect x="1540.2" y="1419.3" width="19.7" height="10.8" fill="#333333" /><rect x="1540.2" y="1397.7" width="19.7" height="10.8" fill="#2f2f2f" /><rect x="1540.2" y="1386.8" width="19.7" height="10.8" fill="#292929" /><rect x="1540.2" y="1376" width="19.7" height="10.8" fill="#3e3e3e" /><rect x="1540.2" y="1365.1" width="19.7" height="10.8" fill="#2c2c2c" /><rect x="1540.2" y="1354.3" width="19.7" height="10.8" fill="#2f2f2f" /><rect x="1540.2" y="1332.6" width="19.7" height="10.8" fill="#2b2b2b" /><rect x="1559.9" y="1473.6" width="19.7" height="10.8" fill="#151515" /><rect x="1559.9" y="1462.7" width="19.7" height="10.8" fill="#111111" /><rect x="1559.9" y="1419.3" width="19.7" height="10.8" fill="#353535" /><rect x="1559.9" y="1397.7" width="19.7" height="10.8" fill="#343434" /><rect x="1559.9" y="1386.8" width="19.7" height="10.8" fill="#313131" /><rect x="1559.9" y="1365.1" width="19.7" height="10.8" fill="#313131" /><rect x="1559.9" y="1332.6" width="19.7" height="10.8" fill="#2e2e2e" /><rect x="1579.6" y="1473.6" width="19.7" height="10.8" fill="#0c0c0c" /><rect x="1579.6" y="1462.7" width="19.7" height="10.8" fill="#080808" /><rect x="1579.6" y="1441" width="19.7" height="10.8" fill="#0b0b0b" /><rect x="1579.6" y="1419.3" width="19.7" height="10.8" fill="#1a1a1a" /><rect x="1579.6" y="1386.8" width="19.7" height="10.8" fill="#202020" /><rect x="1579.6" y="1376" width="19.7" height="10.8" fill="#191919" /><rect x="1579.6" y="1343.4" width="19.7" height="10.8" fill="#202020" /><rect x="1579.6" y="1332.6" width="19.7" height="10.8" fill="#191919" /><rect x="1599.4" y="1484.4" width="19.7" height="10.8" fill="#0b0b0b" /><rect x="1599.4" y="1462.7" width="19.7" height="10.8" fill="#090909" /><rect x="1599.4" y="1419.3" width="19.7" height="10.8" fill="#171717" /><rect x="1599.4" y="1376" width="19.7" height="10.8" fill="#1d1d1d" /><rect x="1599.4" y="1365.1" width="19.7" height="10.8" fill="#181818" /><rect x="1599.4" y="1354.3" width="19.7" height="10.8" fill="#1c1c1c" /><rect x="1599.4" y="1332.6" width="19.7" height="10.8" fill="#1d1d1d" /><rect x="1619.1" y="1484.4" width="19.7" height="10.8" fill="#080808" /><rect x="1619.1" y="1473.6" width="19.7" height="10.8" fill="#090909" /><rect x="1619.1" y="1462.7" width="19.7" height="10.8" fill="#090909" /><rect x="1619.1" y="1451.9" width="19.7" height="10.8" fill="#0b0b0b" /><rect x="1619.1" y="1386.8" width="19.7" height="10.8" fill="#1e1e1e" /><rect x="1619.1" y="1376" width="19.7" height="10.8" fill="#141414" /><rect x="1619.1" y="1365.1" width="19.7" height="10.8" fill="#1b1b1b" /><rect x="1619.1" y="1343.4" width="19.7" height="10.8" fill="#141414" /><rect x="1619.1" y="1332.6" width="19.7" height="10.8" fill="#1e1e1e" /><rect x="1638.8" y="1484.4" width="19.7" height="10.8" fill="#090909" /><rect x="1638.8" y="1462.7" width="19.7" height="10.8" fill="#080808" /><rect x="1638.8" y="1397.7" width="19.7" height="10.8" fill="#1e1e1e" /><rect x="1194.7" y="1663.3" width="9.9" height="69.4" fill="#525252" /><rect x="1194.7" y="1585.2" width="9.9" height="43.4" fill="#737373" /><rect x="1204.6" y="1589.6" width="19.7" height="17.3" fill="#d9d9d9" /><rect x="1204.6" y="1606.9" width="19.7" height="13" fill="#8c8c8c" /><rect x="1224.3" y="1593.9" width="19.7" height="21.7" fill="#b8b8b8" /><rect x="1224.3" y="1615.6" width="19.7" height="30.4" fill="#8c8c8c" /><rect x="1244" y="1611.3" width="19.7" height="52" fill="#808080" /><rect x="1244" y="1663.3" width="19.7" height="13" fill="#595959" /><rect x="1263.8" y="1633" width="19.7" height="65.1" fill="#666666" /><rect x="1283.5" y="1646" width="19.7" height="65.1" fill="#4c4c4c" /><rect x="1303.3" y="1663.3" width="19.7" height="52" fill="#1f1f1f" /><rect x="1717.8" y="1567.9" width="19.7" height="52" fill="#2e2e2e" /><rect x="1737.5" y="1576.6" width="19.7" height="134.5" fill="#404040" /><rect x="1757.3" y="1589.6" width="19.7" height="121.4" fill="#5c5c5c" /><rect x="1757.3" y="1637.3" width="19.7" height="60.7" fill="#6b6b6b" /><rect x="1777" y="1620" width="19.7" height="91.1" fill="#6b6b6b" /><rect x="1796.8" y="1637.3" width="19.7" height="82.4" fill="#616161" /><rect x="1816.5" y="1641.6" width="19.7" height="78.1" fill="#4c4c4c" /><rect x="1836.2" y="1663.3" width="19.7" height="56.4" fill="#1f1f1f" /><rect x="1194.7" y="1515.9" width="9.9" height="34.7" fill="#9d9d9d" /><rect x="1194.7" y="1495" width="9.9" height="30.4" fill="#858585" /><rect x="1194.7" y="1501.5" width="9.9" height="17.4" fill="#f2f2f2" /><rect x="1194.7" y="1543.6" width="9.9" height="30.4" fill="#888888" /><rect x="1194.7" y="1550.1" width="9.9" height="17.4" fill="#f7f7f7" /><rect x="1204.6" y="1515.9" width="19.7" height="34.7" fill="#9d9d9d" /><rect x="1204.6" y="1495" width="19.7" height="30.4" fill="#858585" /><rect x="1204.6" y="1501.5" width="19.7" height="17.4" fill="#f2f2f2" /><rect x="1204.6" y="1543.6" width="19.7" height="30.4" fill="#888888" /><rect x="1204.6" y="1550.1" width="19.7" height="17.4" fill="#f7f7f7" /><rect x="1224.3" y="1515.9" width="19.7" height="34.7" fill="#535353" /><rect x="1224.3" y="1495" width="19.7" height="30.4" fill="#656565" /><rect x="1224.3" y="1501.5" width="19.7" height="17.4" fill="#b8b8b8" /><rect x="1224.3" y="1543.6" width="19.7" height="30.4" fill="#686868" /><rect x="1224.3" y="1550.1" width="19.7" height="17.4" fill="#bdbdbd" /><rect x="1244" y="1515.9" width="19.7" height="34.7" fill="#292929" /><rect x="1244" y="1495" width="19.7" height="30.4" fill="#323232" /><rect x="1244" y="1501.5" width="19.7" height="17.4" fill="#5c5c5c" /><rect x="1244" y="1543.6" width="19.7" height="30.4" fill="#353535" /><rect x="1244" y="1550.1" width="19.7" height="17.4" fill="#616161" /><rect x="1263.8" y="1515.9" width="19.7" height="34.7" fill="#222222" /><rect x="1263.8" y="1495" width="19.7" height="30.4" fill="#2a2a2a" /><rect x="1263.8" y="1501.5" width="19.7" height="17.4" fill="#4c4c4c" /><rect x="1263.8" y="1543.6" width="19.7" height="30.4" fill="#2d2d2d" /><rect x="1263.8" y="1550.1" width="19.7" height="17.4" fill="#525252" /><rect x="1283.5" y="1515.9" width="19.7" height="34.7" fill="#1f1f1f" /><rect x="1283.5" y="1495" width="19.7" height="30.4" fill="#262626" /><rect x="1283.5" y="1501.5" width="19.7" height="17.4" fill="#454545" /><rect x="1283.5" y="1543.6" width="19.7" height="30.4" fill="#292929" /><rect x="1283.5" y="1550.1" width="19.7" height="17.4" fill="#4a4a4a" /><rect x="1303.3" y="1515.9" width="19.7" height="34.7" fill="#1d1d1d" /><rect x="1303.3" y="1495" width="19.7" height="30.4" fill="#232323" /><rect x="1303.3" y="1501.5" width="19.7" height="17.4" fill="#404040" /><rect x="1303.3" y="1543.6" width="19.7" height="30.4" fill="#262626" /><rect x="1303.3" y="1550.1" width="19.7" height="17.4" fill="#454545" /><rect x="1323" y="1515.9" width="19.7" height="34.7" fill="#1a1a1a" /><rect x="1323" y="1495" width="19.7" height="30.4" fill="#202020" /><rect x="1323" y="1501.5" width="19.7" height="17.4" fill="#3b3b3b" /><rect x="1323" y="1543.6" width="19.7" height="30.4" fill="#232323" /><rect x="1323" y="1550.1" width="19.7" height="17.4" fill="#404040" /><rect x="1342.8" y="1515.9" width="19.7" height="34.7" fill="#171717" /><rect x="1342.8" y="1495" width="19.7" height="30.4" fill="#1c1c1c" /><rect x="1342.8" y="1501.5" width="19.7" height="17.4" fill="#333333" /><rect x="1342.8" y="1543.6" width="19.7" height="30.4" fill="#1f1f1f" /><rect x="1342.8" y="1550.1" width="19.7" height="17.4" fill="#383838" /><rect x="1362.5" y="1515.9" width="19.7" height="34.7" fill="#121212" /><rect x="1362.5" y="1495" width="19.7" height="30.4" fill="#161616" /><rect x="1362.5" y="1501.5" width="19.7" height="17.4" fill="#292929" /><rect x="1362.5" y="1543.6" width="19.7" height="30.4" fill="#191919" /><rect x="1362.5" y="1550.1" width="19.7" height="17.4" fill="#2e2e2e" /><rect x="1382.2" y="1515.9" width="19.7" height="34.7" fill="#353535" /><rect x="1382.2" y="1495" width="19.7" height="30.4" fill="#414141" /><rect x="1382.2" y="1501.5" width="19.7" height="17.4" fill="#757575" /><rect x="1382.2" y="1543.6" width="19.7" height="30.4" fill="#434343" /><rect x="1382.2" y="1550.1" width="19.7" height="17.4" fill="#7a7a7a" /><rect x="1402" y="1515.9" width="19.7" height="34.7" fill="#494949" /><rect x="1402" y="1495" width="19.7" height="30.4" fill="#5a5a5a" /><rect x="1402" y="1501.5" width="19.7" height="17.4" fill="#a3a3a3" /><rect x="1402" y="1543.6" width="19.7" height="30.4" fill="#5d5d5d" /><rect x="1402" y="1550.1" width="19.7" height="17.4" fill="#a8a8a8" /><rect x="1421.7" y="1515.9" width="19.7" height="34.7" fill="#3c3c3c" /><rect x="1421.7" y="1495" width="19.7" height="30.4" fill="#494949" /><rect x="1421.7" y="1501.5" width="19.7" height="17.4" fill="#858585" /><rect x="1421.7" y="1543.6" width="19.7" height="30.4" fill="#4c4c4c" /><rect x="1421.7" y="1550.1" width="19.7" height="17.4" fill="#8a8a8a" /><rect x="1441.5" y="1515.9" width="19.7" height="34.7" fill="#474747" /><rect x="1441.5" y="1495" width="19.7" height="30.4" fill="#575757" /><rect x="1441.5" y="1501.5" width="19.7" height="17.4" fill="#9e9e9e" /><rect x="1441.5" y="1543.6" width="19.7" height="30.4" fill="#5a5a5a" /><rect x="1441.5" y="1550.1" width="19.7" height="17.4" fill="#a3a3a3" /><rect x="1461.2" y="1515.9" width="19.7" height="34.7" fill="#3e3e3e" /><rect x="1461.2" y="1495" width="19.7" height="30.4" fill="#4c4c4c" /><rect x="1461.2" y="1501.5" width="19.7" height="17.4" fill="#8a8a8a" /><rect x="1461.2" y="1543.6" width="19.7" height="30.4" fill="#4f4f4f" /><rect x="1461.2" y="1550.1" width="19.7" height="17.4" fill="#8f8f8f" /><rect x="1480.9" y="1515.9" width="19.7" height="34.7" fill="#404040" /><rect x="1480.9" y="1495" width="19.7" height="30.4" fill="#4f4f4f" /><rect x="1480.9" y="1501.5" width="19.7" height="17.4" fill="#8f8f8f" /><rect x="1480.9" y="1543.6" width="19.7" height="30.4" fill="#515151" /><rect x="1480.9" y="1550.1" width="19.7" height="17.4" fill="#949494" /><rect x="1500.7" y="1515.9" width="19.7" height="34.7" fill="#3c3c3c" /><rect x="1500.7" y="1495" width="19.7" height="30.4" fill="#494949" /><rect x="1500.7" y="1501.5" width="19.7" height="17.4" fill="#858585" /><rect x="1500.7" y="1543.6" width="19.7" height="30.4" fill="#4c4c4c" /><rect x="1500.7" y="1550.1" width="19.7" height="17.4" fill="#8a8a8a" /><rect x="1520.4" y="1515.9" width="19.7" height="34.7" fill="#454545" /><rect x="1520.4" y="1495" width="19.7" height="30.4" fill="#545454" /><rect x="1520.4" y="1501.5" width="19.7" height="17.4" fill="#999999" /><rect x="1520.4" y="1543.6" width="19.7" height="30.4" fill="#575757" /><rect x="1520.4" y="1550.1" width="19.7" height="17.4" fill="#9e9e9e" /><rect x="1540.2" y="1515.9" width="19.7" height="34.7" fill="#404040" /><rect x="1540.2" y="1495" width="19.7" height="30.4" fill="#4f4f4f" /><rect x="1540.2" y="1501.5" width="19.7" height="17.4" fill="#8f8f8f" /><rect x="1540.2" y="1543.6" width="19.7" height="30.4" fill="#515151" /><rect x="1540.2" y="1550.1" width="19.7" height="17.4" fill="#949494" /><rect x="1559.9" y="1515.9" width="19.7" height="34.7" fill="#414141" /><rect x="1559.9" y="1495" width="19.7" height="30.4" fill="#505050" /><rect x="1559.9" y="1501.5" width="19.7" height="17.4" fill="#919191" /><rect x="1559.9" y="1543.6" width="19.7" height="30.4" fill="#535353" /><rect x="1559.9" y="1550.1" width="19.7" height="17.4" fill="#969696" /><rect x="1579.6" y="1515.9" width="19.7" height="34.7" fill="#474747" /><rect x="1579.6" y="1495" width="19.7" height="30.4" fill="#575757" /><rect x="1579.6" y="1501.5" width="19.7" height="17.4" fill="#9e9e9e" /><rect x="1579.6" y="1543.6" width="19.7" height="30.4" fill="#5a5a5a" /><rect x="1579.6" y="1550.1" width="19.7" height="17.4" fill="#a3a3a3" /><rect x="1599.4" y="1515.9" width="19.7" height="34.7" fill="#555555" /><rect x="1599.4" y="1495" width="19.7" height="30.4" fill="#686868" /><rect x="1599.4" y="1501.5" width="19.7" height="17.4" fill="#bdbdbd" /><rect x="1599.4" y="1543.6" width="19.7" height="30.4" fill="#6b6b6b" /><rect x="1599.4" y="1550.1" width="19.7" height="17.4" fill="#c2c2c2" /><rect x="1619.1" y="1515.9" width="19.7" height="34.7" fill="#8f8f8f" /><rect x="1619.1" y="1495" width="19.7" height="30.4" fill="#797979" /><rect x="1619.1" y="1501.5" width="19.7" height="17.4" fill="#dbdbdb" /><rect x="1619.1" y="1543.6" width="19.7" height="30.4" fill="#7b7b7b" /><rect x="1619.1" y="1550.1" width="19.7" height="17.4" fill="#e0e0e0" /><rect x="1638.8" y="1515.9" width="19.7" height="34.7" fill="#9d9d9d" /><rect x="1638.8" y="1495" width="19.7" height="30.4" fill="#858585" /><rect x="1638.8" y="1501.5" width="19.7" height="17.4" fill="#f2f2f2" /><rect x="1638.8" y="1543.6" width="19.7" height="30.4" fill="#888888" /><rect x="1638.8" y="1550.1" width="19.7" height="17.4" fill="#f7f7f7" /><rect x="1658.6" y="1515.9" width="19.7" height="34.7" fill="#a1a1a1" /><rect x="1658.6" y="1495" width="19.7" height="30.4" fill="#888888" /><rect x="1658.6" y="1501.5" width="19.7" height="17.4" fill="#f7f7f7" /><rect x="1658.6" y="1543.6" width="19.7" height="30.4" fill="#8b8b8b" /><rect x="1658.6" y="1550.1" width="19.7" height="17.4" fill="#fcfcfc" /><rect x="1678.3" y="1515.9" width="19.7" height="34.7" fill="#959595" /><rect x="1678.3" y="1495" width="19.7" height="30.4" fill="#7e7e7e" /><rect x="1678.3" y="1501.5" width="19.7" height="17.4" fill="#e6e6e6" /><rect x="1678.3" y="1543.6" width="19.7" height="30.4" fill="#818181" /><rect x="1678.3" y="1550.1" width="19.7" height="17.4" fill="#ebebeb" /><rect x="1698.1" y="1515.9" width="19.7" height="34.7" fill="#858585" /><rect x="1698.1" y="1495" width="19.7" height="30.4" fill="#707070" /><rect x="1698.1" y="1501.5" width="19.7" height="17.4" fill="#cccccc" /><rect x="1698.1" y="1543.6" width="19.7" height="30.4" fill="#737373" /><rect x="1698.1" y="1550.1" width="19.7" height="17.4" fill="#d1d1d1" /><rect x="1717.8" y="1515.9" width="19.7" height="34.7" fill="#505050" /><rect x="1717.8" y="1495" width="19.7" height="30.4" fill="#626262" /><rect x="1717.8" y="1501.5" width="19.7" height="17.4" fill="#b2b2b2" /><rect x="1717.8" y="1543.6" width="19.7" height="30.4" fill="#656565" /><rect x="1717.8" y="1550.1" width="19.7" height="17.4" fill="#b8b8b8" /><rect x="1737.5" y="1515.9" width="19.7" height="34.7" fill="#4c4c4c" /><rect x="1737.5" y="1495" width="19.7" height="30.4" fill="#5d5d5d" /><rect x="1737.5" y="1501.5" width="19.7" height="17.4" fill="#a8a8a8" /><rect x="1737.5" y="1543.6" width="19.7" height="30.4" fill="#5f5f5f" /><rect x="1737.5" y="1550.1" width="19.7" height="17.4" fill="#adadad" /><rect x="1757.3" y="1515.9" width="19.7" height="34.7" fill="#454545" /><rect x="1757.3" y="1495" width="19.7" height="30.4" fill="#545454" /><rect x="1757.3" y="1501.5" width="19.7" height="17.4" fill="#999999" /><rect x="1757.3" y="1543.6" width="19.7" height="30.4" fill="#575757" /><rect x="1757.3" y="1550.1" width="19.7" height="17.4" fill="#9e9e9e" /><rect x="1777" y="1515.9" width="19.7" height="34.7" fill="#454545" /><rect x="1777" y="1495" width="19.7" height="30.4" fill="#545454" /><rect x="1777" y="1501.5" width="19.7" height="17.4" fill="#999999" /><rect x="1777" y="1543.6" width="19.7" height="30.4" fill="#575757" /><rect x="1777" y="1550.1" width="19.7" height="17.4" fill="#9e9e9e" /><rect x="1796.8" y="1515.9" width="19.7" height="34.7" fill="#434343" /><rect x="1796.8" y="1495" width="19.7" height="30.4" fill="#515151" /><rect x="1796.8" y="1501.5" width="19.7" height="17.4" fill="#949494" /><rect x="1796.8" y="1543.6" width="19.7" height="30.4" fill="#545454" /><rect x="1796.8" y="1550.1" width="19.7" height="17.4" fill="#999999" /><rect x="1816.5" y="1515.9" width="19.7" height="34.7" fill="#3f3f3f" /><rect x="1816.5" y="1495" width="19.7" height="30.4" fill="#4d4d4d" /><rect x="1816.5" y="1501.5" width="19.7" height="17.4" fill="#8c8c8c" /><rect x="1816.5" y="1543.6" width="19.7" height="30.4" fill="#505050" /><rect x="1816.5" y="1550.1" width="19.7" height="17.4" fill="#919191" /><rect x="1836.2" y="1515.9" width="19.7" height="34.7" fill="#434343" /><rect x="1836.2" y="1495" width="19.7" height="30.4" fill="#515151" /><rect x="1836.2" y="1501.5" width="19.7" height="17.4" fill="#949494" /><rect x="1836.2" y="1543.6" width="19.7" height="30.4" fill="#545454" /><rect x="1836.2" y="1550.1" width="19.7" height="17.4" fill="#999999" /><rect x="1856" y="1515.9" width="19.7" height="34.7" fill="#454545" /><rect x="1856" y="1495" width="19.7" height="30.4" fill="#545454" /><rect x="1856" y="1501.5" width="19.7" height="17.4" fill="#999999" /><rect x="1856" y="1543.6" width="19.7" height="30.4" fill="#575757" /><rect x="1856" y="1550.1" width="19.7" height="17.4" fill="#9e9e9e" /><rect x="1875.7" y="1515.9" width="19.7" height="34.7" fill="#474747" /><rect x="1875.7" y="1495" width="19.7" height="30.4" fill="#575757" /><rect x="1875.7" y="1501.5" width="19.7" height="17.4" fill="#9e9e9e" /><rect x="1875.7" y="1543.6" width="19.7" height="30.4" fill="#5a5a5a" /><rect x="1875.7" y="1550.1" width="19.7" height="17.4" fill="#a3a3a3" /><rect x="1895.5" y="1515.9" width="19.7" height="34.7" fill="#3f3f3f" /><rect x="1895.5" y="1495" width="19.7" height="30.4" fill="#4d4d4d" /><rect x="1895.5" y="1501.5" width="19.7" height="17.4" fill="#8c8c8c" /><rect x="1895.5" y="1543.6" width="19.7" height="30.4" fill="#505050" /><rect x="1895.5" y="1550.1" width="19.7" height="17.4" fill="#919191" /><rect x="1915.2" y="1515.9" width="19.7" height="34.7" fill="#3f3f3f" /><rect x="1915.2" y="1495" width="19.7" height="30.4" fill="#4d4d4d" /><rect x="1915.2" y="1501.5" width="19.7" height="17.4" fill="#8c8c8c" /><rect x="1915.2" y="1543.6" width="19.7" height="30.4" fill="#505050" /><rect x="1915.2" y="1550.1" width="19.7" height="17.4" fill="#919191" /><rect x="1934.9" y="1515.9" width="19.7" height="34.7" fill="#454545" /><rect x="1934.9" y="1495" width="19.7" height="30.4" fill="#545454" /><rect x="1934.9" y="1501.5" width="19.7" height="17.4" fill="#999999" /><rect x="1934.9" y="1543.6" width="19.7" height="30.4" fill="#575757" /><rect x="1934.9" y="1550.1" width="19.7" height="17.4" fill="#9e9e9e" /><rect x="1954.7" y="1515.9" width="19.7" height="34.7" fill="#454545" /><rect x="1954.7" y="1495" width="19.7" height="30.4" fill="#545454" /><rect x="1954.7" y="1501.5" width="19.7" height="17.4" fill="#999999" /><rect x="1954.7" y="1543.6" width="19.7" height="30.4" fill="#575757" /><rect x="1954.7" y="1550.1" width="19.7" height="17.4" fill="#9e9e9e" /><rect x="1974.4" y="1515.9" width="19.7" height="34.7" fill="#474747" /><rect x="1974.4" y="1495" width="19.7" height="30.4" fill="#575757" /><rect x="1974.4" y="1501.5" width="19.7" height="17.4" fill="#9e9e9e" /><rect x="1974.4" y="1543.6" width="19.7" height="30.4" fill="#5a5a5a" /><rect x="1974.4" y="1550.1" width="19.7" height="17.4" fill="#a3a3a3" /><rect x="1994.2" y="1515.9" width="19.7" height="34.7" fill="#4b4b4b" /><rect x="1994.2" y="1495" width="19.7" height="30.4" fill="#5b5b5b" /><rect x="1994.2" y="1501.5" width="19.7" height="17.4" fill="#a6a6a6" /><rect x="1994.2" y="1543.6" width="19.7" height="30.4" fill="#5e5e5e" /><rect x="1994.2" y="1550.1" width="19.7" height="17.4" fill="#ababab" /><rect x="2013.9" y="1515.9" width="19.7" height="34.7" fill="#484848" /><rect x="2013.9" y="1495" width="19.7" height="30.4" fill="#585858" /><rect x="2013.9" y="1501.5" width="19.7" height="17.4" fill="#a1a1a1" /><rect x="2013.9" y="1543.6" width="19.7" height="30.4" fill="#5b5b5b" /><rect x="2013.9" y="1550.1" width="19.7" height="17.4" fill="#a6a6a6" /><rect x="2033.7" y="1515.9" width="19.7" height="34.7" fill="#454545" /><rect x="2033.7" y="1495" width="19.7" height="30.4" fill="#545454" /><rect x="2033.7" y="1501.5" width="19.7" height="17.4" fill="#999999" /><rect x="2033.7" y="1543.6" width="19.7" height="30.4" fill="#575757" /><rect x="2033.7" y="1550.1" width="19.7" height="17.4" fill="#9e9e9e" /><rect x="2053.4" y="1515.9" width="19.7" height="34.7" fill="#2c2c2c" /><rect x="2053.4" y="1495" width="19.7" height="30.4" fill="#353535" /><rect x="2053.4" y="1501.5" width="19.7" height="17.4" fill="#616161" /><rect x="2053.4" y="1543.6" width="19.7" height="30.4" fill="#383838" /><rect x="2053.4" y="1550.1" width="19.7" height="17.4" fill="#666666" /><rect x="2073.1" y="1515.9" width="14.8" height="34.7" fill="#060606" /><rect x="2073.1" y="1495" width="14.8" height="30.4" fill="#070707" /><rect x="2073.1" y="1501.5" width="14.8" height="17.4" fill="#0d0d0d" /><rect x="2073.1" y="1543.6" width="14.8" height="30.4" fill="#0a0a0a" /><rect x="2073.1" y="1550.1" width="14.8" height="17.4" fill="#121212" /></g></g></g><rect x="1194.7" y="1316.4" width="889.8" height="434.4" fill="none" stroke="#000" stroke-width="2.8" /><line x1="1194.7" y1="1359.7" x2="1216.7" y2="1359.7" stroke="#000" stroke-width="3" /><line x1="1194.7" y1="1446.5" x2="1216.7" y2="1446.5" stroke="#000" stroke-width="3" /><line x1="1194.7" y1="1533.2" x2="1216.7" y2="1533.2" stroke="#000" stroke-width="3" /><line x1="1194.7" y1="1620" x2="1216.7" y2="1620" stroke="#000" stroke-width="3" /><line x1="1194.7" y1="1706.7" x2="1216.7" y2="1706.7" stroke="#000" stroke-width="3" /><line x1="1392.1" y1="1750.8" x2="1392.1" y2="1731.8" stroke="#000" stroke-width="3" /><line x1="1589.5" y1="1750.8" x2="1589.5" y2="1731.8" stroke="#000" stroke-width="3" /><line x1="1786.9" y1="1750.8" x2="1786.9" y2="1731.8" stroke="#000" stroke-width="3" /><line x1="1984.3" y1="1750.8" x2="1984.3" y2="1731.8" stroke="#000" stroke-width="3" /><text x="1189.5" y="1373.7" text-anchor="end">0.4</text><text x="1189.5" y="1460.5" text-anchor="end">0.2</text><text x="1189.5" y="1547.2" text-anchor="end">0.0</text><text x="1189.5" y="1634" text-anchor="end">-0.2</text><text x="1189.5" y="1720.7" text-anchor="end">-0.4</text><text x="1194.7" y="1793.4" text-anchor="middle">20</text><text x="1392.1" y="1793.4" text-anchor="middle">40</text><text x="1589.5" y="1793.4" text-anchor="middle">60</text><text x="1786.9" y="1793.4" text-anchor="middle">80</text><text x="1984.3" y="1793.4" text-anchor="middle">100</text><text x="1546" y="1832.3"><tspan font-style="italic">E</tspan><tspan font-size="26" dy="10">photon</tspan><tspan dy="-10"> (eV)</tspan></text><text transform="translate(1108 1545) rotate(-90)" text-anchor="middle"><tspan font-style="italic">k</tspan><tspan font-style="italic" font-size="22" dy="9">x</tspan><tspan dy="-9"> (Å</tspan><tspan font-size="22" dy="-15">-1</tspan><tspan dy="15">)</tspan></text><linearGradient id="gcbg" x1="0" y1="0" x2="0" y2="1"><stop offset="0.00" stop-color="rgb(0,0,40)"/><stop offset="0.10" stop-color="rgb(0,18,85)"/><stop offset="0.20" stop-color="rgb(0,45,140)"/><stop offset="0.30" stop-color="rgb(0,75,190)"/><stop offset="0.40" stop-color="rgb(8,105,220)"/><stop offset="0.50" stop-color="rgb(40,135,230)"/><stop offset="0.60" stop-color="rgb(95,168,237)"/><stop offset="0.70" stop-color="rgb(150,200,243)"/><stop offset="0.80" stop-color="rgb(196,225,248)"/><stop offset="0.90" stop-color="rgb(228,242,252)"/><stop offset="1.00" stop-color="rgb(255,255,255)"/></linearGradient><rect x="2090" y="1667.3" width="40" height="54.1" fill="url(#gcbg)" /><line x1="2090" y1="1722.6" x2="2125" y2="1722.6" stroke="#000" stroke-width="2" /><text x="2093" y="1662">H</text><text x="2097" y="1751">L</text><text x="4" y="1888" font-weight="bold">h</text><text x="448.6" y="1889" text-anchor="middle">ARPES surface state</text><text x="1070.3" y="1889" text-anchor="middle">ARPES surface state</text><clipPath id="cph1"><rect x="156.7" y="1901.6" width="558.4" height="453.1"/></clipPath><filter id="pixh1" filterUnits="userSpaceOnUse" primitiveUnits="userSpaceOnUse" x="146.7" y="1891.6" width="578.4" height="473.1"><feFlood x="160.7" y="1905.6" width="1" height="1" flood-color="#fff"/><feComposite x="156.7" y="1901.6" width="9" height="9"/><feTile result="a"/><feComposite in="SourceGraphic" in2="a" operator="in"/><feMorphology operator="dilate" radius="4.5"/></filter><g clip-path="url(#cph1)"><g filter="url(#cmInf)"><g filter="url(#pixh1)"><rect x="151.7" y="1896.6" width="568.4" height="463.1" fill="#4c4c4c" /><path d="M150 1940 L215 1940 L225 2260 L150 2260Z" fill="#333333" filter="url(#hb12)"/><path d="M560 2150 L720 2080 L720 2300 L560 2360Z" fill="#242424" filter="url(#hb12)"/><path d="M620 2000 L720 1960 L720 2110 L600 2150Z" fill="#3d3d3d" filter="url(#hb12)"/><path d="M330 1950 L560 1950 L520 2100 L380 2100Z" fill="#454545" filter="url(#hb12)"/><path d="M320 2180 C330 2163.3 385 2170 420 2170 C455 2170 513.3 2163.3 530 2180 C546.7 2196.7 548.3 2255 520 2270 C491.7 2285 393.3 2285 360 2270 C326.7 2255 310 2196.7 320 2180Z" fill="#949494" filter="url(#hb12)"/><path d="M236 1945 C238 1951.7 243.7 1971.7 248 1985 C252.3 1998.3 259.7 2018.3 262 2025" fill="none" stroke="#858585" stroke-width="44" stroke-linecap="round" stroke-linejoin="round" filter="url(#hb7)"/><path d="M262 2025 C264.3 2030.8 271 2048.3 276 2060 C281 2071.7 289.3 2089.2 292 2095" fill="none" stroke="#999999" stroke-width="48" stroke-linecap="round" stroke-linejoin="round" filter="url(#hb7)"/><path d="M292 2095 C295 2100.8 303.7 2118.3 310 2130 C316.3 2141.7 326.7 2159.2 330 2165" fill="none" stroke="#b2b2b2" stroke-width="52" stroke-linecap="round" stroke-linejoin="round" filter="url(#hb7)"/><path d="M330 2165 C334.2 2170.8 346.7 2188.3 355 2200 C363.3 2211.7 375.8 2229.2 380 2235" fill="none" stroke="#cccccc" stroke-width="56" stroke-linecap="round" stroke-linejoin="round" filter="url(#hb7)"/><path d="M380 2235 C385 2241.7 400 2261.7 410 2275 C420 2288.3 435 2308.3 440 2315" fill="none" stroke="#dbdbdb" stroke-width="60" stroke-linecap="round" stroke-linejoin="round" filter="url(#hb7)"/><path d="M645 1955 C642.8 1960.8 636.5 1978.3 632 1990 C627.5 2001.7 620.3 2019.2 618 2025" fill="none" stroke="#b8b8b8" stroke-width="46" stroke-linecap="round" stroke-linejoin="round" filter="url(#hb7)"/><path d="M618 2025 C615.3 2030.8 607.3 2048.3 602 2060 C596.7 2071.7 588.7 2089.2 586 2095" fill="none" stroke="#adadad" stroke-width="48" stroke-linecap="round" stroke-linejoin="round" filter="url(#hb7)"/><path d="M586 2095 C583.3 2100.8 575.7 2118.3 570 2130 C564.3 2141.7 555 2159.2 552 2165" fill="none" stroke="#c7c7c7" stroke-width="50" stroke-linecap="round" stroke-linejoin="round" filter="url(#hb7)"/><path d="M552 2165 C548.7 2170.8 538.7 2188.3 532 2200 C525.3 2211.7 515.3 2229.2 512 2235" fill="none" stroke="#dbdbdb" stroke-width="54" stroke-linecap="round" stroke-linejoin="round" filter="url(#hb7)"/><path d="M512 2235 C508.3 2240.8 497.8 2257.5 490 2270 C482.2 2282.5 469.2 2303.3 465 2310" fill="none" stroke="#e6e6e6" stroke-width="58" stroke-linecap="round" stroke-linejoin="round" filter="url(#hb7)"/><ellipse cx="648" cy="1975" rx="20" ry="14" fill="#dbdbdb" filter="url(#hb4)"/><ellipse cx="577" cy="2108" rx="14" ry="16" fill="#dbdbdb" filter="url(#hb4)"/><ellipse cx="318" cy="2165" rx="16" ry="14" fill="#dbdbdb" filter="url(#hb4)"/><ellipse cx="308" cy="2130" rx="12" ry="10" fill="#cccccc" filter="url(#hb4)"/><path d="M360 2240 C366.7 2250 385 2285 400 2300 C415 2315 433.3 2328.3 450 2330 C466.7 2331.7 486.7 2321.7 500 2310 C513.3 2298.3 525 2268.3 530 2260" fill="none" stroke="#d9d9d9" stroke-width="46" stroke-linecap="round" stroke-linejoin="round" filter="url(#hb7)"/><path d="M410 2305 C417.2 2297.5 440.8 2292.2 455 2290 C469.2 2287.8 488.3 2285.3 495 2292 C501.7 2298.7 503.3 2321.7 495 2330 C486.7 2338.3 458.8 2341.2 445 2342 C431.2 2342.8 417.8 2341.2 412 2335 C406.2 2328.8 402.8 2312.5 410 2305Z" fill="#ffffff" filter="url(#hb4)"/><path d="M150 2255 C157 2237.5 183.7 2237.5 192 2255 C200.3 2272.5 207 2342.5 200 2360 C193 2377.5 158.3 2377.5 150 2360 C141.7 2342.5 143 2272.5 150 2255Z" fill="#c2c2c2" filter="url(#hb7)"/><path d="M683 2285 C687.7 2270.8 713.8 2262.5 720 2275 C726.2 2287.5 724.7 2345.8 720 2360 C715.3 2374.2 698.2 2372.5 692 2360 C685.8 2347.5 678.3 2299.2 683 2285Z" fill="#9e9e9e" filter="url(#hb7)"/><linearGradient id="gTopH" x1="0" y1="0" x2="0" y2="1"><stop offset="0" stop-color="#000"/><stop offset="0.3" stop-color="#000"/><stop offset="1" stop-color="#000" stop-opacity="0"/></linearGradient><rect x="151.7" y="1896.6" width="568.4" height="55.4" fill="url(#gTopH)" /></g></g></g><rect x="156.7" y="1901.6" width="558.4" height="453.1" fill="none" stroke="#1a1a1a" stroke-width="2.8" /><line x1="157.7" y1="1937.2" x2="164.7" y2="1937.2" stroke="#f4e8ee" stroke-width="2.6" /><line x1="157.7" y1="1983.5" x2="164.7" y2="1983.5" stroke="#f4e8ee" stroke-width="2.6" /><line x1="157.7" y1="2029.9" x2="164.7" y2="2029.9" stroke="#f4e8ee" stroke-width="2.6" /><line x1="157.7" y1="2076.2" x2="164.7" y2="2076.2" stroke="#f4e8ee" stroke-width="2.6" /><line x1="157.7" y1="2122.6" x2="164.7" y2="2122.6" stroke="#f4e8ee" stroke-width="2.6" /><line x1="157.7" y1="2168.9" x2="164.7" y2="2168.9" stroke="#f4e8ee" stroke-width="2.6" /><line x1="157.7" y1="2215.3" x2="164.7" y2="2215.3" stroke="#f4e8ee" stroke-width="2.6" /><line x1="157.7" y1="2261.7" x2="164.7" y2="2261.7" stroke="#f4e8ee" stroke-width="2.6" /><line x1="157.7" y1="2308" x2="164.7" y2="2308" stroke="#f4e8ee" stroke-width="2.6" /><line x1="226.5" y1="2353.7" x2="226.5" y2="2343.7" stroke="#f4e8ee" stroke-width="2.6" /><line x1="296.3" y1="2353.7" x2="296.3" y2="2343.7" stroke="#f4e8ee" stroke-width="2.6" /><line x1="366.1" y1="2353.7" x2="366.1" y2="2343.7" stroke="#f4e8ee" stroke-width="2.6" /><line x1="435.9" y1="2353.7" x2="435.9" y2="2343.7" stroke="#f4e8ee" stroke-width="2.6" /><line x1="505.7" y1="2353.7" x2="505.7" y2="2343.7" stroke="#f4e8ee" stroke-width="2.6" /><line x1="575.5" y1="2353.7" x2="575.5" y2="2343.7" stroke="#f4e8ee" stroke-width="2.6" /><line x1="645.3" y1="2353.7" x2="645.3" y2="2343.7" stroke="#f4e8ee" stroke-width="2.6" /><text x="152.5" y="1951.2" text-anchor="end">0</text><text x="152.5" y="2043.9" text-anchor="end">-50</text><text x="152.5" y="2136.6" text-anchor="end">-100</text><text x="152.5" y="2229.3" text-anchor="end">-150</text><text x="152.5" y="2322" text-anchor="end">-200</text><text x="157.2" y="2390.5" text-anchor="middle">-0.1</text><text x="296.3" y="2390.5" text-anchor="middle">-0.05</text><text x="435.9" y="2390.5" text-anchor="middle">0.0</text><text x="575.5" y="2390.5" text-anchor="middle">0.05</text><text x="714.6" y="2390.5" text-anchor="middle">0.1</text><clipPath id="cph2"><rect x="787.8" y="1900.8" width="559.3" height="454.4"/></clipPath><filter id="pixh2" filterUnits="userSpaceOnUse" primitiveUnits="userSpaceOnUse" x="777.8" y="1890.8" width="579.3" height="474.4"><feFlood x="791.8" y="1904.8" width="1" height="1" flood-color="#fff"/><feComposite x="787.8" y="1900.8" width="9" height="9"/><feTile result="a"/><feComposite in="SourceGraphic" in2="a" operator="in"/><feMorphology operator="dilate" radius="4.5"/></filter><g clip-path="url(#cph2)"><g filter="url(#cmInf)"><g filter="url(#pixh2)"><rect x="782.8" y="1895.8" width="569.3" height="464.4" fill="#000000" /><rect x="1081.9" y="2280.4" width="18" height="18" fill="#242424" /><rect x="1180.8" y="2184.5" width="18" height="9" fill="#3b3b3b" /><rect x="934.4" y="2283.5" width="27" height="18" fill="#393939" /><rect x="1233.3" y="2220.6" width="27" height="9" fill="#3d3d3d" /><rect x="833.6" y="2282.5" width="18" height="9" fill="#3a3a3a" /><rect x="1087.7" y="2278.6" width="18" height="18" fill="#2f2f2f" /><rect x="1276.5" y="2220" width="18" height="18" fill="#212121" /><rect x="1307.5" y="2160.7" width="18" height="27" fill="#373737" /><rect x="1239.2" y="2321.2" width="9" height="18" fill="#2a2a2a" /><rect x="827.9" y="2260.7" width="18" height="9" fill="#3c3c3c" /><rect x="1002.4" y="2268.8" width="27" height="9" fill="#222222" /><rect x="915.5" y="2079.5" width="18" height="9" fill="#272727" /><rect x="1224.7" y="2059.4" width="18" height="18" fill="#333333" /><rect x="1294.9" y="2104.8" width="18" height="9" fill="#3a3a3a" /><rect x="1112.3" y="2088.1" width="9" height="9" fill="#363636" /><rect x="987.9" y="2158.2" width="18" height="18" fill="#323232" /><rect x="1193.7" y="2101.5" width="9" height="27" fill="#3d3d3d" /><rect x="1291.4" y="1997.4" width="18" height="18" fill="#2d2d2d" /><rect x="1313.8" y="2342.3" width="27" height="9" fill="#252525" /><rect x="935.8" y="2044.3" width="9" height="9" fill="#202020" /><rect x="1325.6" y="2099.8" width="18" height="18" fill="#202020" /><rect x="1300" y="2023.4" width="18" height="18" fill="#333333" /><rect x="1018" y="2017" width="9" height="27" fill="#323232" /><rect x="930.5" y="2181.6" width="18" height="27" fill="#242424" /><rect x="959.4" y="2251" width="27" height="27" fill="#2b2b2b" /><rect x="1062.7" y="2189.4" width="27" height="9" fill="#3c3c3c" /><rect x="1205.9" y="2072.5" width="18" height="9" fill="#3c3c3c" /><rect x="1123" y="2336.2" width="27" height="9" fill="#3a3a3a" /><rect x="977.5" y="2198.3" width="18" height="27" fill="#282828" /><rect x="893" y="2340.1" width="18" height="18" fill="#2c2c2c" /><rect x="1042.5" y="2023.6" width="9" height="27" fill="#1f1f1f" /><rect x="1308.8" y="2313.5" width="18" height="18" fill="#2d2d2d" /><rect x="1262.1" y="2039.4" width="27" height="18" fill="#1f1f1f" /><rect x="942.3" y="2345.6" width="27" height="18" fill="#363636" /><rect x="914.1" y="2086.2" width="9" height="9" fill="#222222" /><rect x="1183.5" y="2098.5" width="18" height="9" fill="#363636" /><rect x="1242.8" y="2344.7" width="27" height="27" fill="#383838" /><rect x="1299" y="2302.2" width="9" height="18" fill="#373737" /><rect x="1031.2" y="2011" width="9" height="9" fill="#3c3c3c" /><rect x="941.7" y="2118.5" width="27" height="18" fill="#3b3b3b" /><rect x="1083.9" y="2348.1" width="9" height="27" fill="#383838" /><rect x="818.1" y="2253.1" width="18" height="18" fill="#282828" /><rect x="980.5" y="2183.8" width="18" height="18" fill="#383838" /><rect x="1039" y="2081.8" width="9" height="27" fill="#2b2b2b" /><rect x="1169.8" y="2163.8" width="18" height="9" fill="#2e2e2e" /><rect x="1326.5" y="2195.9" width="18" height="9" fill="#2c2c2c" /><rect x="1085.2" y="2129.8" width="18" height="27" fill="#303030" /><rect x="888.8" y="2182.5" width="18" height="18" fill="#373737" /><rect x="1275.7" y="2334.4" width="27" height="9" fill="#313131" /><rect x="891.1" y="2246.2" width="18" height="18" fill="#2f2f2f" /><rect x="1091.9" y="2149.5" width="18" height="18" fill="#3b3b3b" /><rect x="1067.7" y="2170.9" width="18" height="9" fill="#323232" /><rect x="980.9" y="2017.7" width="9" height="27" fill="#2a2a2a" /><rect x="892" y="2325.1" width="9" height="18" fill="#292929" /><rect x="1212.4" y="2105.7" width="18" height="27" fill="#272727" /><rect x="1007" y="2107.2" width="18" height="18" fill="#222222" /><rect x="1241.7" y="2309.7" width="18" height="9" fill="#252525" /><rect x="1094.1" y="2123" width="27" height="18" fill="#272727" /><rect x="842.5" y="2135.6" width="18" height="18" fill="#1f1f1f" /><rect x="1269.3" y="2199.5" width="18" height="27" fill="#323232" /><rect x="1018.1" y="2209.6" width="18" height="18" fill="#3a3a3a" /><rect x="1308" y="2260.7" width="18" height="9" fill="#252525" /><rect x="995.9" y="2305.3" width="18" height="9" fill="#363636" /><rect x="1254.7" y="2015.7" width="18" height="18" fill="#353535" /><rect x="1222.3" y="2328.2" width="27" height="27" fill="#2c2c2c" /><rect x="1149" y="2037.3" width="27" height="18" fill="#262626" /><rect x="1017" y="2165" width="18" height="18" fill="#3c3c3c" /><rect x="1302.2" y="2298.8" width="27" height="9" fill="#2d2d2d" /><rect x="1019.5" y="2342" width="27" height="9" fill="#3c3c3c" /><rect x="899.3" y="2000.9" width="27" height="9" fill="#252525" /><path d="M786.9 2001.2 L881.2 2001.2 L837.4 2227.1 L786.9 2227.1Z" fill="#0d0d0d" filter="url(#hb12)"/><path d="M1275.6 2018.1 L1349.8 2018.1 L1349.8 2126 L1292.5 2126Z" fill="#242424" filter="url(#hb12)"/><path d="M786.9 2277.6 L830.7 2277.6 L837.4 2361.9 L786.9 2361.9Z" fill="#595959" filter="url(#hb7)"/><path d="M797 1970.9 C814.9 1970.9 864.4 1971.2 904.8 1970.9 C945.3 1970.6 994.7 1969.8 1039.7 1969.2 C1084.6 1968.7 1135.2 1967.5 1174.5 1967.5 C1213.8 1967.5 1248.6 1969.2 1275.6 1969.2 C1302.6 1969.2 1326.2 1967.8 1336.3 1967.5" fill="none" stroke="#424242" stroke-width="24" stroke-linecap="round" stroke-linejoin="round" filter="url(#hb4)"/><path d="M797 1957.4 C816.1 1951.8 891.3 1951 911.6 1955.7 C931.8 1960.5 937.4 1980.4 918.3 1986.1 C899.2 1991.7 817.2 1994.2 797 1989.4 C776.7 1984.7 777.9 1963 797 1957.4Z" fill="#8f8f8f" filter="url(#hb4)"/><path d="M827.3 1962.5 C838 1958.8 880.7 1957.7 891.3 1960.8 C902 1963.9 902 1977.4 891.3 1981 C880.7 1984.7 838 1985.8 827.3 1982.7 C816.6 1979.6 816.6 1966.1 827.3 1962.5Z" fill="#adadad" filter="url(#hb4)"/><path d="M1228.4 1960.8 C1244.2 1952.9 1317.2 1947.9 1336.3 1950.7 C1355.4 1953.5 1358.8 1969.8 1343 1977.6 C1327.3 1985.5 1261 2000.7 1241.9 1997.9 C1222.8 1995.1 1212.7 1968.7 1228.4 1960.8Z" fill="#c7c7c7" filter="url(#hb4)"/><path d="M1248.6 1967.5 C1259.9 1962.8 1310.4 1957.4 1322.8 1959.1 C1335.2 1960.8 1334 1972.9 1322.8 1977.6 C1311.6 1982.4 1267.7 1989.4 1255.4 1987.8 C1243 1986.1 1237.4 1972.3 1248.6 1967.5Z" fill="#fafafa" filter="url(#hb4)"/><path d="M830.7 1991.1 C837.4 2001.2 858.2 2030.4 871.1 2051.8 C884 2073.1 895.8 2096.7 908.2 2119.2 C920.6 2141.7 933.5 2166.4 945.3 2186.6 C957.1 2206.9 969.4 2226 979 2240.6 C988.5 2255.2 998.6 2268.6 1002.6 2274.3" fill="none" stroke="#333333" stroke-width="52" stroke-linecap="round" stroke-linejoin="round" filter="url(#hb7)"/><path d="M1275.6 2001.2 C1271.4 2010.8 1259.3 2038.9 1250.3 2058.5 C1241.3 2078.2 1231.5 2099 1221.7 2119.2 C1211.8 2139.4 1201.2 2161.3 1191.3 2179.9 C1181.5 2198.4 1172 2215.3 1162.7 2230.4 C1153.4 2245.6 1140.2 2264.2 1135.7 2270.9" fill="none" stroke="#424242" stroke-width="60" stroke-linecap="round" stroke-linejoin="round" filter="url(#hb7)"/><path d="M807.1 1991.1 C813.8 2001.2 834 2030.4 847.5 2051.8 C861 2073.1 874.5 2096.7 888 2119.2 C901.5 2141.7 915.5 2165.8 928.4 2186.6 C941.3 2207.4 954.8 2228.2 965.5 2243.9 C976.2 2259.7 988 2274.8 992.5 2281" fill="none" stroke="#666666" stroke-width="13" stroke-linecap="round" stroke-linejoin="round" filter="url(#hb2)"/><path d="M854.3 1994.5 C860.4 2004.6 879 2033.8 891.3 2055.2 C903.7 2076.5 916.6 2101.2 928.4 2122.6 C940.2 2143.9 952 2165.3 962.1 2183.3 C972.2 2201.2 980.7 2216.4 989.1 2230.4 C997.5 2244.5 1008.8 2261.3 1012.7 2267.5" fill="none" stroke="#6b6b6b" stroke-width="13" stroke-linecap="round" stroke-linejoin="round" filter="url(#hb2)"/><path d="M1295.8 2001.2 C1291.3 2010.8 1278.4 2038.9 1268.9 2058.5 C1259.3 2078.2 1249.2 2099 1238.5 2119.2 C1227.9 2139.4 1215.5 2161.3 1204.8 2179.9 C1194.2 2198.4 1184 2215.3 1174.5 2230.4 C1164.9 2245.6 1152 2264.2 1147.5 2270.9" fill="none" stroke="#8f8f8f" stroke-width="13" stroke-linecap="round" stroke-linejoin="round" filter="url(#hb2)"/><path d="M1255.4 2004.6 C1251.5 2014.2 1240.2 2042.2 1231.8 2061.9 C1223.4 2081.6 1213.8 2102.9 1204.8 2122.6 C1195.8 2142.2 1186.8 2162.5 1177.9 2179.9 C1168.9 2197.3 1159.9 2212.5 1150.9 2227.1 C1141.9 2241.7 1128.4 2260.8 1123.9 2267.5" fill="none" stroke="#858585" stroke-width="13" stroke-linecap="round" stroke-linejoin="round" filter="url(#hb2)"/><ellipse cx="1181.2" cy="2176.5" rx="9" ry="12" fill="#c2c2c2" filter="url(#hb2)"/><ellipse cx="1179.5" cy="2237.2" rx="9" ry="14" fill="#bdbdbd" filter="url(#hb2)"/><ellipse cx="1157.6" cy="2227.1" rx="14" ry="12" fill="#9e9e9e" filter="url(#hb2)"/><ellipse cx="975.6" cy="2250.7" rx="9" ry="9" fill="#9e9e9e" filter="url(#hb2)"/><path d="M972.2 2284.4 C988 2274.8 1043.6 2269.8 1073.4 2267.5 C1103.1 2265.3 1136.3 2263 1150.9 2270.9 C1165.5 2278.8 1168.3 2300.7 1161 2314.7 C1153.7 2328.8 1131.8 2348.4 1107.1 2355.2 C1082.4 2361.9 1034 2360.2 1012.7 2355.2 C991.3 2350.1 985.7 2336.6 979 2324.8 C972.2 2313 956.5 2293.9 972.2 2284.4Z" fill="#b2b2b2" filter="url(#hb4)"/><path d="M1016.1 2308 C1025.6 2299.5 1069.4 2297.3 1090.2 2294.5 C1111 2291.7 1133.5 2285.5 1140.8 2291.1 C1148.1 2296.7 1142.5 2319.2 1134 2328.2 C1125.6 2337.2 1107.1 2342.2 1090.2 2345.1 C1073.4 2347.9 1045.3 2351.2 1032.9 2345.1 C1020.6 2338.9 1006.5 2316.4 1016.1 2308Z" fill="#ffffff" filter="url(#hb4)"/><rect x="782.8" y="1895.8" width="569.3" height="50.2" fill="#000000" /></g></g></g><rect x="787.8" y="1900.8" width="559.3" height="454.4" fill="none" stroke="#1a1a1a" stroke-width="2.8" /><line x1="788.8" y1="1937.2" x2="795.8" y2="1937.2" stroke="#f4e8ee" stroke-width="2.6" /><line x1="788.8" y1="1983.5" x2="795.8" y2="1983.5" stroke="#f4e8ee" stroke-width="2.6" /><line x1="788.8" y1="2029.9" x2="795.8" y2="2029.9" stroke="#f4e8ee" stroke-width="2.6" /><line x1="788.8" y1="2076.2" x2="795.8" y2="2076.2" stroke="#f4e8ee" stroke-width="2.6" /><line x1="788.8" y1="2122.6" x2="795.8" y2="2122.6" stroke="#f4e8ee" stroke-width="2.6" /><line x1="788.8" y1="2168.9" x2="795.8" y2="2168.9" stroke="#f4e8ee" stroke-width="2.6" /><line x1="788.8" y1="2215.3" x2="795.8" y2="2215.3" stroke="#f4e8ee" stroke-width="2.6" /><line x1="788.8" y1="2261.7" x2="795.8" y2="2261.7" stroke="#f4e8ee" stroke-width="2.6" /><line x1="788.8" y1="2308" x2="795.8" y2="2308" stroke="#f4e8ee" stroke-width="2.6" /><line x1="857.7" y1="2354.2" x2="857.7" y2="2344.2" stroke="#f4e8ee" stroke-width="2.6" /><line x1="927.6" y1="2354.2" x2="927.6" y2="2344.2" stroke="#f4e8ee" stroke-width="2.6" /><line x1="997.5" y1="2354.2" x2="997.5" y2="2344.2" stroke="#f4e8ee" stroke-width="2.6" /><line x1="1067.4" y1="2354.2" x2="1067.4" y2="2344.2" stroke="#f4e8ee" stroke-width="2.6" /><line x1="1137.4" y1="2354.2" x2="1137.4" y2="2344.2" stroke="#f4e8ee" stroke-width="2.6" /><line x1="1207.3" y1="2354.2" x2="1207.3" y2="2344.2" stroke="#f4e8ee" stroke-width="2.6" /><line x1="1277.2" y1="2354.2" x2="1277.2" y2="2344.2" stroke="#f4e8ee" stroke-width="2.6" /><text x="788.3" y="2390.5" text-anchor="middle">-0.1</text><text x="927.6" y="2390.5" text-anchor="middle">-0.05</text><text x="1067.4" y="2390.5" text-anchor="middle">0.0</text><text x="1207.3" y="2390.5" text-anchor="middle">0.05</text><text x="1346.6" y="2390.5" text-anchor="middle">0.1</text><text x="171.5" y="1938.2" fill="#fff">Surface state</text><text x="794" y="1937.2" fill="#fff">Surface state</text><line x1="236.8" y1="1947.6" x2="242.1" y2="1975.6" stroke="#fff" stroke-width="2.6" /><path d="M244 1985.4 L235.7 1973.8 L247.5 1971.5 Z" fill="#fff"/><line x1="859.3" y1="1949" x2="865.6" y2="1976.3" stroke="#fff" stroke-width="2.6" /><path d="M867.8 1986 L859 1974.7 L870.7 1972 Z" fill="#fff"/><linearGradient id="gcbh1" x1="0" y1="1" x2="0" y2="0"><stop offset="0.00" stop-color="rgb(0,0,8)"/><stop offset="0.18" stop-color="rgb(10,8,70)"/><stop offset="0.30" stop-color="rgb(40,12,110)"/><stop offset="0.42" stop-color="rgb(150,50,110)"/><stop offset="0.55" stop-color="rgb(240,80,80)"/><stop offset="0.68" stop-color="rgb(250,140,70)"/><stop offset="0.82" stop-color="rgb(250,210,100)"/><stop offset="1.00" stop-color="rgb(255,248,190)"/></linearGradient><rect x="719.4" y="2243.9" width="33.2" height="65.2" fill="url(#gcbh1)" /><text x="736.5" y="2233.2" text-anchor="middle">H</text><text x="738" y="2343.9" text-anchor="middle">L</text><linearGradient id="gcbh2" x1="0" y1="1" x2="0" y2="0"><stop offset="0.00" stop-color="rgb(0,0,8)"/><stop offset="0.18" stop-color="rgb(10,8,70)"/><stop offset="0.30" stop-color="rgb(40,12,110)"/><stop offset="0.42" stop-color="rgb(150,50,110)"/><stop offset="0.55" stop-color="rgb(240,80,80)"/><stop offset="0.68" stop-color="rgb(250,140,70)"/><stop offset="0.82" stop-color="rgb(250,210,100)"/><stop offset="1.00" stop-color="rgb(255,248,190)"/></linearGradient><rect x="1352" y="2245" width="34" height="65" fill="url(#gcbh2)" /><text x="1369" y="2236" text-anchor="middle">H</text><text x="1370.5" y="2346" text-anchor="middle">L</text><text x="368" y="2444"><tspan font-style="italic">k</tspan><tspan font-style="italic" font-size="22" dy="9">x</tspan><tspan dy="-9"> (Å</tspan><tspan font-size="22" dy="-15">-1</tspan><tspan dy="15">)</tspan></text><text x="1001" y="2444"><tspan font-style="italic">k</tspan><tspan font-style="italic" font-size="22" dy="9">x</tspan><tspan dy="-9"> (Å</tspan><tspan font-size="22" dy="-15">-1</tspan><tspan dy="15">)</tspan></text><text transform="translate(55 2080) rotate(-90)" text-anchor="middle"><tspan font-style="italic">E</tspan><tspan font-size="22" dy="9">b</tspan><tspan dy="-9"> (meV)</tspan></text><text x="1381.5" y="1890" font-weight="bold">i</text><text x="1805.8" y="1893" text-anchor="middle">Extracted dispersion</text><rect x="1521.8" y="1901.2" width="557.6" height="453.5" fill="none" stroke="#000" stroke-width="2.8" /><line x1="1521.8" y1="1937.2" x2="1529.8" y2="1937.2" stroke="#000" stroke-width="2.6" /><line x1="1521.8" y1="1983.5" x2="1529.8" y2="1983.5" stroke="#000" stroke-width="2.6" /><line x1="1521.8" y1="2029.8" x2="1529.8" y2="2029.8" stroke="#000" stroke-width="2.6" /><line x1="1521.8" y1="2076.1" x2="1529.8" y2="2076.1" stroke="#000" stroke-width="2.6" /><line x1="1521.8" y1="2122.4" x2="1529.8" y2="2122.4" stroke="#000" stroke-width="2.6" /><line x1="1521.8" y1="2168.7" x2="1529.8" y2="2168.7" stroke="#000" stroke-width="2.6" /><line x1="1521.8" y1="2215" x2="1529.8" y2="2215" stroke="#000" stroke-width="2.6" /><line x1="1521.8" y1="2261.3" x2="1529.8" y2="2261.3" stroke="#000" stroke-width="2.6" /><line x1="1521.8" y1="2307.6" x2="1529.8" y2="2307.6" stroke="#000" stroke-width="2.6" /><line x1="1591.5" y1="2354.7" x2="1591.5" y2="2343.7" stroke="#000" stroke-width="2.6" /><line x1="1661.2" y1="2354.7" x2="1661.2" y2="2343.7" stroke="#000" stroke-width="2.6" /><line x1="1730.9" y1="2354.7" x2="1730.9" y2="2343.7" stroke="#000" stroke-width="2.6" /><line x1="1800.6" y1="2354.7" x2="1800.6" y2="2343.7" stroke="#000" stroke-width="2.6" /><line x1="1870.3" y1="2354.7" x2="1870.3" y2="2343.7" stroke="#000" stroke-width="2.6" /><line x1="1940" y1="2354.7" x2="1940" y2="2343.7" stroke="#000" stroke-width="2.6" /><line x1="2009.7" y1="2354.7" x2="2009.7" y2="2343.7" stroke="#000" stroke-width="2.6" /><text x="1516.5" y="1951.2" text-anchor="end">0</text><text x="1516.5" y="2043.8" text-anchor="end">-50</text><text x="1516.5" y="2136.4" text-anchor="end">-100</text><text x="1516.5" y="2229" text-anchor="end">-150</text><text x="1516.5" y="2321.6" text-anchor="end">-200</text><text x="1520.8" y="2392.5" text-anchor="middle">-0.1</text><text x="1661.2" y="2392.5" text-anchor="middle">-0.05</text><text x="1800.6" y="2392.5" text-anchor="middle">0.0</text><text x="1940" y="2392.5" text-anchor="middle">0.05</text><text x="2080.4" y="2392.5" text-anchor="middle">0.1</text><text x="1734" y="2442"><tspan font-style="italic">k</tspan><tspan font-style="italic" font-size="22" dy="9">x</tspan><tspan dy="-9"> (Å</tspan><tspan font-size="22" dy="-15">-1</tspan><tspan dy="15">)</tspan></text><text transform="translate(1421 2080) rotate(-90)" text-anchor="middle"><tspan font-style="italic">E</tspan><tspan font-size="22" dy="9">b</tspan><tspan dy="-9"> (meV)</tspan></text><path d="M1557.9 1936.2 C1560 1943.8 1565.2 1965.8 1570.2 1981.8 C1575.2 1997.8 1582.2 2015.6 1588 2032 C1593.8 2048.4 1599 2062.9 1605.3 2080.1 C1611.6 2097.3 1619 2117.4 1626 2135 C1633 2152.6 1641 2171 1647.5 2185.5 C1654 2200 1659.2 2210.9 1665 2222 C1670.8 2233.1 1676.8 2243 1682.6 2252.2 C1688.4 2261.4 1694.2 2269.4 1700 2277 C1705.8 2284.6 1711.9 2292 1717.7 2297.8 C1723.5 2303.6 1729.2 2307.9 1735 2312 C1740.8 2316.1 1747 2319.9 1752.8 2322.4 C1758.6 2324.9 1764.2 2326.1 1770 2327 C1775.8 2327.9 1782.4 2327.9 1787.9 2327.7 C1793.4 2327.5 1798.3 2326.9 1803 2326 C1807.7 2325.1 1810.8 2324.6 1816 2322.4 C1821.2 2320.2 1828.2 2316.5 1834 2313 C1839.8 2309.5 1845.3 2306 1851.1 2301.3 C1856.9 2296.6 1863.2 2290.8 1869 2285 C1874.8 2279.2 1880.4 2273.2 1886.2 2266.2 C1892 2259.2 1898.2 2251.2 1904 2243 C1909.8 2234.8 1915.5 2227.3 1921.3 2217.1 C1927.1 2206.9 1933.1 2194.3 1939 2182 C1944.9 2169.7 1951.2 2157 1956.5 2143.3 C1961.8 2129.6 1966.3 2114.6 1971 2100 C1975.7 2085.4 1980.1 2072.6 1984.6 2055.6 C1989.1 2038.6 1993.6 2017.6 1998 1998 C2002.4 1978.4 2008.8 1947.9 2010.9 1937.9" fill="none" stroke="#e41616" stroke-width="3.6" stroke-linecap="round" stroke-linejoin="round" /><path d="M1598 1985 C1600.3 1994.2 1606.7 2021.2 1612 2040 C1617.3 2058.8 1622.9 2080.2 1630 2098 C1637.1 2115.8 1648.2 2133.9 1654.5 2146.9 C1660.8 2159.9 1663.3 2166.7 1668 2176 C1672.7 2185.3 1677.3 2193 1682.6 2203 C1687.9 2213 1694.2 2225.5 1700 2236 C1705.8 2246.5 1711.9 2257.2 1717.7 2266.2 C1723.5 2275.2 1729.2 2283 1735 2290 C1740.8 2297 1747.5 2303.7 1752.8 2308.4 C1758.1 2313.1 1762.3 2315.6 1767 2318 C1771.7 2320.4 1776.2 2321.7 1780.9 2323.1 C1785.6 2324.5 1790.3 2325.7 1795 2326.5 C1799.7 2327.3 1804.3 2327.7 1809 2327.7 C1813.7 2327.7 1818.3 2327.3 1823 2326.5 C1827.7 2325.7 1831.8 2325.2 1837.1 2323.1 C1842.4 2321 1849.2 2317.6 1855 2314 C1860.8 2310.4 1866.4 2306.5 1872.2 2301.3 C1878 2296.1 1884.2 2290 1890 2283 C1895.8 2276 1901.5 2268 1907.3 2259.2 C1913.1 2250.4 1919.2 2240.5 1925 2230 C1930.8 2219.5 1936.6 2208.5 1942.4 2196 C1948.2 2183.5 1954.2 2169.1 1960 2155 C1965.8 2140.9 1972.2 2126.2 1977.5 2111.7 C1982.8 2097.2 1987.3 2082 1992 2068 C1996.7 2054 2001.6 2039.7 2005.6 2027.5 C2009.6 2015.3 2012.5 2005.5 2016 1995 C2019.5 1984.5 2024.9 1969.4 2026.7 1964.3" fill="none" stroke="#1b1be0" stroke-width="3.6" stroke-linecap="round" stroke-linejoin="round" /><circle cx="1542.8" cy="1933.4" r="8" fill="url(#gRed)"/><circle cx="1548.1" cy="1949.2" r="8" fill="url(#gRed)"/><circle cx="1556.2" cy="1965" r="8" fill="url(#gRed)"/><circle cx="1564.3" cy="1980.8" r="8" fill="url(#gRed)"/><circle cx="1572.7" cy="1995.9" r="8" fill="url(#gRed)"/><circle cx="1581.5" cy="2011.7" r="8" fill="url(#gRed)"/><circle cx="1587.8" cy="2027.5" r="8" fill="url(#gRed)"/><circle cx="1596.6" cy="2042.2" r="8" fill="url(#gRed)"/><circle cx="1600.1" cy="2058.4" r="8" fill="url(#gRed)"/><circle cx="1608.8" cy="2074.2" r="8" fill="url(#gRed)"/><circle cx="1615.9" cy="2091.7" r="8" fill="url(#gRed)"/><circle cx="1628.2" cy="2108.2" r="8" fill="url(#gRed)"/><circle cx="1634.5" cy="2124.7" r="8" fill="url(#gRed)"/><circle cx="1641.2" cy="2141.6" r="8" fill="url(#gRed)"/><circle cx="1647.5" cy="2159.1" r="8" fill="url(#gRed)"/><circle cx="1654.5" cy="2175" r="8" fill="url(#gRed)"/><circle cx="1660.8" cy="2191.4" r="8" fill="url(#gRed)"/><circle cx="1670.3" cy="2208.3" r="8" fill="url(#gRed)"/><circle cx="1679.1" cy="2224.1" r="8" fill="url(#gRed)"/><circle cx="1686.1" cy="2239.9" r="8" fill="url(#gRed)"/><circle cx="1693.1" cy="2255.7" r="8" fill="url(#gRed)"/><circle cx="1700.1" cy="2270.5" r="8" fill="url(#gRed)"/><circle cx="1712.4" cy="2287.3" r="8" fill="url(#gRed)"/><circle cx="1727.5" cy="2301.3" r="8" fill="url(#gRed)"/><circle cx="1744" cy="2315.4" r="8" fill="url(#gRed)"/><circle cx="1786.2" cy="2326.6" r="8" fill="url(#gRed)"/><circle cx="1819.5" cy="2315.4" r="8" fill="url(#gRed)"/><circle cx="1838.8" cy="2301.3" r="8" fill="url(#gRed)"/><circle cx="1852.9" cy="2286.6" r="8" fill="url(#gRed)"/><circle cx="1865.2" cy="2270.5" r="8" fill="url(#gRed)"/><circle cx="1876.8" cy="2255.7" r="8" fill="url(#gRed)"/><circle cx="1883.8" cy="2239.9" r="8" fill="url(#gRed)"/><circle cx="1896.1" cy="2224.1" r="8" fill="url(#gRed)"/><circle cx="1903.8" cy="2208.3" r="8" fill="url(#gRed)"/><circle cx="1910.9" cy="2191.4" r="8" fill="url(#gRed)"/><circle cx="1921.3" cy="2175" r="8" fill="url(#gRed)"/><circle cx="1924.9" cy="2159.1" r="8" fill="url(#gRed)"/><circle cx="1933.6" cy="2141.6" r="8" fill="url(#gRed)"/><circle cx="1945.2" cy="2124.7" r="8" fill="url(#gRed)"/><circle cx="1953" cy="2108.2" r="8" fill="url(#gRed)"/><circle cx="1956.5" cy="2091.7" r="8" fill="url(#gRed)"/><circle cx="1960" cy="2075.9" r="8" fill="url(#gRed)"/><circle cx="1965.2" cy="2059.1" r="8" fill="url(#gRed)"/><circle cx="1970.5" cy="2042.2" r="8" fill="url(#gRed)"/><circle cx="1975.8" cy="2025.7" r="8" fill="url(#gRed)"/><circle cx="1978.2" cy="2008.2" r="8" fill="url(#gRed)"/><circle cx="1979.3" cy="1990.6" r="8" fill="url(#gRed)"/><circle cx="1988" cy="1974.1" r="8" fill="url(#gRed)"/><circle cx="1992.3" cy="1956.5" r="8" fill="url(#gRed)"/><circle cx="1995.1" cy="1940.4" r="8" fill="url(#gRed)"/><path d="M1574.2 1933.4l9 -9l9 9l-9 9z" fill="url(#gBlu)"/><path d="M1576 1948.5l9 -9l9 9l-9 9z" fill="url(#gBlu)"/><path d="M1581.6 1961.5l9 -9l9 9l-9 9z" fill="url(#gBlu)"/><path d="M1587.6 1978.3l9 -9l9 9l-9 9z" fill="url(#gBlu)"/><path d="M1594.6 1992.4l9 -9l9 9l-9 9z" fill="url(#gBlu)"/><path d="M1599.8 2006.4l9 -9l9 9l-9 9z" fill="url(#gBlu)"/><path d="M1603.4 2022.9l9 -9l9 9l-9 9z" fill="url(#gBlu)"/><path d="M1608.6 2042.2l9 -9l9 9l-9 9z" fill="url(#gBlu)"/><path d="M1615.6 2057.3l9 -9l9 9l-9 9z" fill="url(#gBlu)"/><path d="M1615.6 2072.4l9 -9l9 9l-9 9z" fill="url(#gBlu)"/><path d="M1623.7 2088.9l9 -9l9 9l-9 9z" fill="url(#gBlu)"/><path d="M1633.2 2104.7l9 -9l9 9l-9 9z" fill="url(#gBlu)"/><path d="M1642 2122.3l9 -9l9 9l-9 9z" fill="url(#gBlu)"/><path d="M1653.2 2139.8l9 -9l9 9l-9 9z" fill="url(#gBlu)"/><path d="M1650.8 2155.6l9 -9l9 9l-9 9z" fill="url(#gBlu)"/><path d="M1657.8 2172.5l9 -9l9 9l-9 9z" fill="url(#gBlu)"/><path d="M1663.8 2187.9l9 -9l9 9l-9 9z" fill="url(#gBlu)"/><path d="M1673.6 2204.8l9 -9l9 9l-9 9z" fill="url(#gBlu)"/><path d="M1684.1 2220.6l9 -9l9 9l-9 9z" fill="url(#gBlu)"/><path d="M1692.2 2236.4l9 -9l9 9l-9 9z" fill="url(#gBlu)"/><path d="M1701 2251.5l9 -9l9 9l-9 9z" fill="url(#gBlu)"/><path d="M1706.9 2267.3l9 -9l9 9l-9 9z" fill="url(#gBlu)"/><path d="M1729.8 2280.3l9 -9l9 9l-9 9z" fill="url(#gBlu)"/><path d="M1733.3 2297.8l9 -9l9 9l-9 9z" fill="url(#gBlu)"/><path d="M1751.5 2311.2l9 -9l9 9l-9 9z" fill="url(#gBlu)"/><path d="M1789.5 2325.9l9 -9l9 9l-9 9z" fill="url(#gBlu)"/><path d="M1826.3 2314.7l9 -9l9 9l-9 9z" fill="url(#gBlu)"/><path d="M1847.4 2297.8l9 -9l9 9l-9 9z" fill="url(#gBlu)"/><path d="M1859 2283.8l9 -9l9 9l-9 9z" fill="url(#gBlu)"/><path d="M1884.3 2268l9 -9l9 9l-9 9z" fill="url(#gBlu)"/><path d="M1900 2253.9l9 -9l9 9l-9 9z" fill="url(#gBlu)"/><path d="M1905.3 2236.4l9 -9l9 9l-9 9z" fill="url(#gBlu)"/><path d="M1915.9 2218.8l9 -9l9 9l-9 9z" fill="url(#gBlu)"/><path d="M1918.7 2202.3l9 -9l9 9l-9 9z" fill="url(#gBlu)"/><path d="M1929.9 2186.5l9 -9l9 9l-9 9z" fill="url(#gBlu)"/><path d="M1931.7 2170.7l9 -9l9 9l-9 9z" fill="url(#gBlu)"/><path d="M1947.5 2153.9l9 -9l9 9l-9 9z" fill="url(#gBlu)"/><path d="M1951 2139.1l9 -9l9 9l-9 9z" fill="url(#gBlu)"/><path d="M1958 2122.3l9 -9l9 9l-9 9z" fill="url(#gBlu)"/><path d="M1958 2105.8l9 -9l9 9l-9 9z" fill="url(#gBlu)"/><path d="M1966.8 2090l9 -9l9 9l-9 9z" fill="url(#gBlu)"/><path d="M1970.3 2073.1l9 -9l9 9l-9 9z" fill="url(#gBlu)"/><path d="M1979 2056.6l9 -9l9 9l-9 9z" fill="url(#gBlu)"/><path d="M1986.1 2040.8l9 -9l9 9l-9 9z" fill="url(#gBlu)"/><path d="M1991.4 2024.7l9 -9l9 9l-9 9z" fill="url(#gBlu)"/><path d="M1996.6 2005.4l9 -9l9 9l-9 9z" fill="url(#gBlu)"/><path d="M2001.9 1987.1l9 -9l9 9l-9 9z" fill="url(#gBlu)"/><path d="M2010.7 1974.1l9 -9l9 9l-9 9z" fill="url(#gBlu)"/><path d="M2016.6 1956.5l9 -9l9 9l-9 9z" fill="url(#gBlu)"/><path d="M2023 1940.4l9 -9l9 9l-9 9z" fill="url(#gBlu)"/></svg></body></html>
